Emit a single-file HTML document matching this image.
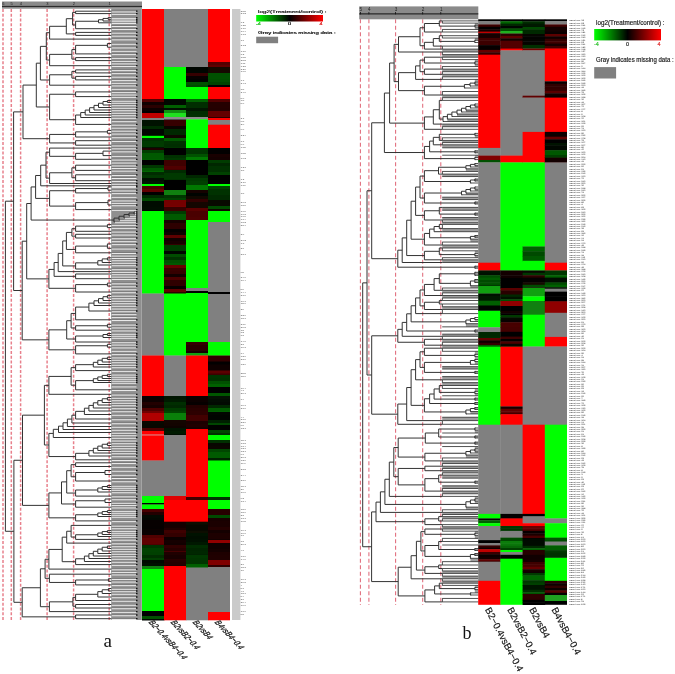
<!DOCTYPE html>
<html><head><meta charset="utf-8"><style>
html,body{margin:0;padding:0;background:#fff;}
svg{display:block;}
</style></head><body>
<svg width="675" height="674" viewBox="0 0 675 674">
<rect width="675" height="674" fill="#fff"/>
<defs><filter id="soft" x="0" y="0" width="1" height="1" color-interpolation-filters="sRGB"><feGaussianBlur stdDeviation="0.45"/></filter></defs>
<g filter="url(#soft)">
<line x1="3" y1="9" x2="3" y2="620" stroke="#e8808c" stroke-width="1.5" stroke-dasharray="3 1.75"/>
<line x1="11.3" y1="9" x2="11.3" y2="620" stroke="#e8808c" stroke-width="1.5" stroke-dasharray="3 1.75"/>
<line x1="20.6" y1="9" x2="20.6" y2="620" stroke="#e8808c" stroke-width="1.5" stroke-dasharray="3 1.75"/>
<line x1="47.1" y1="9" x2="47.1" y2="620" stroke="#e8808c" stroke-width="1.5" stroke-dasharray="3 1.75"/>
<line x1="73.6" y1="9" x2="73.6" y2="620" stroke="#e8808c" stroke-width="1.5" stroke-dasharray="3 1.75"/>
<line x1="109.2" y1="9" x2="109.2" y2="620" stroke="#e8808c" stroke-width="1.5" stroke-dasharray="3 1.75"/>
<rect x="2" y="1.5" width="140" height="7.2" fill="#8a8a8a"/>
<rect x="2" y="5.9" width="140" height="1" fill="#222"/>
<text x="2.2" y="4.9" font-family="Liberation Sans, sans-serif" font-size="4" fill="#222">6</text>
<text x="10.5" y="4.9" font-family="Liberation Sans, sans-serif" font-size="4" fill="#222">5</text>
<text x="19.8" y="4.9" font-family="Liberation Sans, sans-serif" font-size="4" fill="#222">4</text>
<text x="46.300000000000004" y="4.9" font-family="Liberation Sans, sans-serif" font-size="4" fill="#222">3</text>
<text x="72.8" y="4.9" font-family="Liberation Sans, sans-serif" font-size="4" fill="#222">2</text>
<text x="108.4" y="4.9" font-family="Liberation Sans, sans-serif" font-size="4" fill="#222">1</text>
<rect x="111.2" y="8.5" width="30.6" height="611.5" fill="#8f8f8f"/>
<path d="M111.2 11H137.3M111.2 13.4H137.3M111.2 17.4H137.3M111.2 19.1H137.3M111.2 20.8H137.3M111.2 22.6H137.3M111.2 25.55H137.3M111.2 28.5H137.3M111.2 32.2H137.3M111.2 35.2H137.3M111.2 38.9H137.3M111.2 43.3H137.3M111.2 47H137.3M111.2 50.35H137.3M111.2 53.7H137.3M111.2 57.4H137.3M111.2 60.4H137.3M111.2 62.95H137.3M111.2 65.5H137.3M111.2 69.7H137.3M111.2 72.7H137.3M111.2 76.2H137.3M111.2 79.7H137.3M111.2 82.35H137.3M111.2 85H137.3M111.2 88.35H137.3M111.2 91.7H137.3M111.2 94.05H137.3M111.2 96.4H137.3M111.2 100.3H137.3M111.2 102.3H137.3M111.2 104.8H137.3M111.2 107.3H137.3M111.2 109.8H137.3M111.2 112.3H137.3M111.2 114.8H137.3M111.2 117.3H137.3M111.2 120.75H137.3M111.2 124.2H137.3M111.2 127.2H137.3M111.2 130.2H137.3M111.2 133.1H137.3M111.2 136.8H137.3M111.2 140.5H137.3M111.2 145H137.3M111.2 147.9H137.3M111.2 150.9H137.3M111.2 155.4H137.3M111.2 159.1H137.3M111.2 162.05H137.3M111.2 165H137.3M111.2 167.6H137.3M111.2 170.2H137.3M111.2 174.6H137.3M111.2 177.55H137.3M111.2 180.5H137.3M111.2 183.3H137.3M111.2 185.6H137.3M111.2 186.7H137.3M111.2 190H137.3M111.2 192.7H137.3M111.2 196.35H137.3M111.2 200H137.3M111.2 202.4H137.3M111.2 204.8H137.3M111.2 209.4H137.3M134 211.8H137.3M134 213.8H137.3M129 215.8H137.3M124 217.8H137.3M119 219.8H137.3M114 221.8H137.3M111.2 224.4H137.3M111.2 227.4H137.3M111.2 231.1H137.3M111.2 234.1H137.3M111.2 237.8H137.3M111.2 240.75H137.3M111.2 243.7H137.3M111.2 248.1H137.3M111.2 252.6H137.3M111.2 255.1H137.3M111.2 257.6H137.3M111.2 259.8H137.3M111.2 262.3H137.3M111.2 264.8H137.3M111.2 268.8H137.3M111.2 271.4H137.3M111.2 273.8H137.3M111.2 276.15H137.3M111.2 278.5H137.3M111.2 282.9H137.3M111.2 285.9H137.3M111.2 288.85H137.3M111.2 291.8H137.3M111.2 295.2H137.3M111.2 297.8H137.3M111.2 300.3H137.3M111.2 302.8H137.3M111.2 305.3H137.3M111.2 308.05H137.3M111.2 310.8H137.3M111.2 313.73H137.3M111.2 316.67H137.3M111.2 319.6H137.3M111.2 324.1H137.3M111.2 327H137.3M111.2 330H137.3M111.2 333.3H137.3M111.2 335.3H137.3M111.2 337.3H137.3M111.2 341.8H137.3M111.2 344.1H137.3M111.2 347H137.3M111.2 350.35H137.3M111.2 353.7H137.3M111.2 357H137.3M111.2 359.3H137.3M111.2 361.8H137.3M111.2 364.3H137.3M111.2 366.8H137.3M111.2 370.4H137.3M111.2 374.1H137.3M111.2 376.3H137.3M111.2 378.3H137.3M111.2 380.3H137.3M111.2 382.3H137.3M111.2 385.95H137.3M111.2 389.6H137.3M111.2 394.1H137.3M111.2 397.3H137.3M111.2 399.8H137.3M111.2 402.3H137.3M111.2 404.8H137.3M111.2 407.8H137.3M111.2 410.8H137.3M111.2 414.3H137.3M111.2 418.8H137.3M111.2 422.8H137.3M111.2 426.3H137.3M111.2 429.3H137.3M111.2 432.3H137.3M111.2 434.8H137.3M111.2 437.3H137.3M111.2 440.05H137.3M111.2 442.8H137.3M111.2 445.3H137.3M111.2 447.8H137.3M111.2 450.3H137.3M111.2 452.8H137.3M111.2 455.8H137.3M111.2 459.6H137.3M111.2 462.6H137.3M111.2 466.3H137.3M111.2 470.3H137.3M111.2 474.3H137.3M111.2 477.55H137.3M111.2 480.8H137.3M111.2 485.3H137.3M111.2 487.3H137.3M111.2 489.3H137.3M111.2 491.8H137.3M111.2 495.9H137.3M111.2 498.8H137.3M111.2 502.3H137.3M111.2 504.65H137.3M111.2 507H137.3M111.2 510.4H137.3M111.2 512.3H137.3M111.2 514.3H137.3M111.2 516.3H137.3M111.2 520.7H137.3M111.2 525.2H137.3M111.2 527.8H137.3M111.2 530.4H137.3M111.2 532.3H137.3M111.2 534.3H137.3M111.2 536.3H137.3M111.2 539.2H137.3M111.2 542.9H137.3M111.2 545.8H137.3M111.2 548.3H137.3M111.2 550.8H137.3M111.2 553.3H137.3M111.2 555.8H137.3M111.2 558.3H137.3M111.2 561.3H137.3M111.2 564.4H137.3M111.2 568.9H137.3M111.2 571.45H137.3M111.2 574H137.3M111.2 578.5H137.3M111.2 581.1H137.3M111.2 584.7H137.3M111.2 588.3H137.3M111.2 590.8H137.3M111.2 593.3H137.3M111.2 596.8H137.3M111.2 600.3H137.3M111.2 604.3H137.3M111.2 607.8H137.3M111.2 611.4H137.3M111.2 614.8H137.3M111.2 618.5H137.3" stroke="#6a6a6a" stroke-width="0.6" fill="none"/>
<path d="M111.8 11.95H136.5M111.8 14.35H136.5M111.8 18.35H136.5M111.8 20.05H136.5M111.8 21.75H136.5M111.8 23.55H136.5M111.8 26.5H136.5M111.8 29.45H136.5M111.8 33.15H136.5M111.8 36.15H136.5M111.8 39.85H136.5M111.8 44.25H136.5M111.8 47.95H136.5M111.8 51.3H136.5M111.8 54.65H136.5M111.8 58.35H136.5M111.8 61.35H136.5M111.8 63.9H136.5M111.8 66.45H136.5M111.8 70.65H136.5M111.8 73.65H136.5M111.8 77.15H136.5M111.8 80.65H136.5M111.8 83.3H136.5M111.8 85.95H136.5M111.8 89.3H136.5M111.8 92.65H136.5M111.8 95H136.5M111.8 97.35H136.5M111.8 101.25H136.5M111.8 103.25H136.5M111.8 105.75H136.5M111.8 108.25H136.5M111.8 110.75H136.5M111.8 113.25H136.5M111.8 115.75H136.5M111.8 118.25H136.5M111.8 121.7H136.5M111.8 125.15H136.5M111.8 128.15H136.5M111.8 131.15H136.5M111.8 134.05H136.5M111.8 137.75H136.5M111.8 141.45H136.5M111.8 145.95H136.5M111.8 148.85H136.5M111.8 151.85H136.5M111.8 156.35H136.5M111.8 160.05H136.5M111.8 163H136.5M111.8 165.95H136.5M111.8 168.55H136.5M111.8 171.15H136.5M111.8 175.55H136.5M111.8 178.5H136.5M111.8 181.45H136.5M111.8 184.25H136.5M111.8 186.55H136.5M111.8 187.65H136.5M111.8 190.95H136.5M111.8 193.65H136.5M111.8 197.3H136.5M111.8 200.95H136.5M111.8 203.35H136.5M111.8 205.75H136.5M111.8 210.35H136.5M134.6 212.75H136.5M134.6 214.75H136.5M129.6 216.75H136.5M124.6 218.75H136.5M119.6 220.75H136.5M114.6 222.75H136.5M111.8 225.35H136.5M111.8 228.35H136.5M111.8 232.05H136.5M111.8 235.05H136.5M111.8 238.75H136.5M111.8 241.7H136.5M111.8 244.65H136.5M111.8 249.05H136.5M111.8 253.55H136.5M111.8 256.05H136.5M111.8 258.55H136.5M111.8 260.75H136.5M111.8 263.25H136.5M111.8 265.75H136.5M111.8 269.75H136.5M111.8 272.35H136.5M111.8 274.75H136.5M111.8 277.1H136.5M111.8 279.45H136.5M111.8 283.85H136.5M111.8 286.85H136.5M111.8 289.8H136.5M111.8 292.75H136.5M111.8 296.15H136.5M111.8 298.75H136.5M111.8 301.25H136.5M111.8 303.75H136.5M111.8 306.25H136.5M111.8 309H136.5M111.8 311.75H136.5M111.8 314.68H136.5M111.8 317.62H136.5M111.8 320.55H136.5M111.8 325.05H136.5M111.8 327.95H136.5M111.8 330.95H136.5M111.8 334.25H136.5M111.8 336.25H136.5M111.8 338.25H136.5M111.8 342.75H136.5M111.8 345.05H136.5M111.8 347.95H136.5M111.8 351.3H136.5M111.8 354.65H136.5M111.8 357.95H136.5M111.8 360.25H136.5M111.8 362.75H136.5M111.8 365.25H136.5M111.8 367.75H136.5M111.8 371.35H136.5M111.8 375.05H136.5M111.8 377.25H136.5M111.8 379.25H136.5M111.8 381.25H136.5M111.8 383.25H136.5M111.8 386.9H136.5M111.8 390.55H136.5M111.8 395.05H136.5M111.8 398.25H136.5M111.8 400.75H136.5M111.8 403.25H136.5M111.8 405.75H136.5M111.8 408.75H136.5M111.8 411.75H136.5M111.8 415.25H136.5M111.8 419.75H136.5M111.8 423.75H136.5M111.8 427.25H136.5M111.8 430.25H136.5M111.8 433.25H136.5M111.8 435.75H136.5M111.8 438.25H136.5M111.8 441H136.5M111.8 443.75H136.5M111.8 446.25H136.5M111.8 448.75H136.5M111.8 451.25H136.5M111.8 453.75H136.5M111.8 456.75H136.5M111.8 460.55H136.5M111.8 463.55H136.5M111.8 467.25H136.5M111.8 471.25H136.5M111.8 475.25H136.5M111.8 478.5H136.5M111.8 481.75H136.5M111.8 486.25H136.5M111.8 488.25H136.5M111.8 490.25H136.5M111.8 492.75H136.5M111.8 496.85H136.5M111.8 499.75H136.5M111.8 503.25H136.5M111.8 505.6H136.5M111.8 507.95H136.5M111.8 511.35H136.5M111.8 513.25H136.5M111.8 515.25H136.5M111.8 517.25H136.5M111.8 521.65H136.5M111.8 526.15H136.5M111.8 528.75H136.5M111.8 531.35H136.5M111.8 533.25H136.5M111.8 535.25H136.5M111.8 537.25H136.5M111.8 540.15H136.5M111.8 543.85H136.5M111.8 546.75H136.5M111.8 549.25H136.5M111.8 551.75H136.5M111.8 554.25H136.5M111.8 556.75H136.5M111.8 559.25H136.5M111.8 562.25H136.5M111.8 565.35H136.5M111.8 569.85H136.5M111.8 572.4H136.5M111.8 574.95H136.5M111.8 579.45H136.5M111.8 582.05H136.5M111.8 585.65H136.5M111.8 589.25H136.5M111.8 591.75H136.5M111.8 594.25H136.5M111.8 597.75H136.5M111.8 601.25H136.5M111.8 605.25H136.5M111.8 608.75H136.5M111.8 612.35H136.5M111.8 615.75H136.5M111.8 619.45H136.5" stroke="#fff" stroke-width="0.85" fill="none"/>
<path d="M5.4 201.2V531.29M5.4 201.2H13.6M13.6 111.88V290.51M13.6 111.88H23M23 85.08V138.69M23 85.08H36.3M36.3 63.18V106.98M36.3 63.18H40.4M40.4 46.36V79.99M40.4 46.36H46.3M46.3 32.7V60.03M46.3 32.7H49.6M49.6 26.3V39.1M49.6 26.3H66.3M66.3 18.69V33.9M66.3 18.69H72.6M72.6 12.4V24.98M72.6 12.4H75.6M75.6 11.2V13.6M75.6 11.2H111.2M75.6 13.6H111.2M72.6 24.98H75.6M75.6 21.26V28.7M75.6 21.26H98.5M98.5 19.73V22.8M98.5 19.73H103M103 18.45V21M103 18.45H108.1M108.1 17.6V19.3M108.1 17.6H111.2M108.1 19.3H111.2M103 21H111.2M98.5 22.8H111.2M75.6 28.7H111.2M66.3 33.9H75.6M75.6 32.4V35.4M75.6 32.4H111.2M75.6 35.4H111.2M49.6 39.1H111.2M46.3 60.03H49.6M49.6 54.36V65.7M49.6 54.36H71.9M71.9 49.62V59.1M71.9 49.62H75.6M75.6 45.35V53.9M75.6 45.35H107.4M107.4 43.5V47.2M107.4 43.5H111.2M107.4 47.2H111.2M75.6 53.9H111.2M71.9 59.1H75.6M75.6 57.6V60.6M75.6 57.6H111.2M75.6 60.6H111.2M49.6 65.7H111.2M40.4 79.99H49.6M49.6 74.78V85.2M49.6 74.78H71.9M71.9 71.4V78.15M71.9 71.4H75.6M75.6 69.9V72.9M75.6 69.9H111.2M75.6 72.9H111.2M71.9 78.15H75.6M75.6 76.4V79.9M75.6 76.4H111.2M75.6 79.9H111.2M49.6 85.2H111.2M36.3 106.98H49.6M49.6 94.25V119.71M49.6 94.25H75.6M75.6 91.9V96.6M75.6 91.9H111.2M75.6 96.6H111.2M49.6 119.71H75.6M75.6 115.02V124.4M75.6 115.02H80.7M80.7 112.55V117.5M80.7 112.55H85.2M85.2 110.09V115M85.2 110.09H89.6M89.6 107.69V112.5M89.6 107.69H94M94 105.38V110M94 105.38H98.5M98.5 103.25V107.5M98.5 103.25H103M103 101.5V105M103 101.5H107.4M107.4 100.5V102.5M107.4 100.5H111.2M107.4 102.5H111.2M103 105H111.2M98.5 107.5H111.2M94 110H111.2M89.6 112.5H111.2M85.2 115H111.2M80.7 117.5H111.2M75.6 124.4H111.2M23 138.69H49.6M49.6 134.43V142.95M49.6 134.43H75.6M75.6 131.85V137M75.6 131.85H107.4M107.4 130.4V133.3M107.4 130.4H111.2M107.4 133.3H111.2M75.6 137H111.2M49.6 142.95H75.6M75.6 140.7V145.2M75.6 140.7H111.2M75.6 145.2H111.2M13.6 290.51H22.2M22.2 241.19V339.84M22.2 241.19H26.7M26.7 203.51V278.87M26.7 203.51H31.1M31.1 186.95V220.06M31.1 186.95H35.6M35.6 175.49V198.41M35.6 175.49H40.7M40.7 165.17V185.8M40.7 165.17H46M46 152.21V178.14M46 152.21H49.6M49.6 148.1V156.32M49.6 148.1H111.2M49.6 156.32H75.6M75.6 153.35V159.3M75.6 153.35H103M103 151.1V155.6M103 151.1H111.2M103 155.6H111.2M75.6 159.3H111.2M46 178.14H49.6M49.6 172.78V183.5M49.6 172.78H71.9M71.9 167.8V177.75M71.9 167.8H75.6M75.6 165.2V170.4M75.6 165.2H111.2M75.6 170.4H111.2M71.9 177.75H75.6M75.6 174.8V180.7M75.6 174.8H111.2M75.6 180.7H111.2M49.6 183.5H111.2M40.7 185.8H111.2M35.6 198.41H49.6M49.6 190.73V206.1M49.6 190.73H75.6M75.6 188.55V192.9M75.6 188.55H108M108 186.9V190.2M108 186.9H111.2M108 190.2H111.2M75.6 192.9H111.2M49.6 206.1H75.6M75.6 202.6V209.6M75.6 202.6H108M108 200.2V205M108 200.2H111.2M108 205H111.2M75.6 209.6H111.2M31.1 220.06H114M114 218.12V222M114 218.12H119M119 216.25V220M119 216.25H124M124 214.5V218M124 214.5H129M129 213V216M129 213H134M134 212V214M134 212h0.8M134 214h0.8M129 216h0.8M124 218h0.8M119 220h0.8M114 222h0.8M26.7 278.87H48.9M48.9 269.43V288.3M48.9 269.43H54.1M54.1 262.52V276.35M54.1 262.52H58.2M58.2 253.43V271.6M58.2 253.43H62.7M62.7 240.94V265.93M62.7 240.94H66.4M66.4 232.43V249.45M66.4 232.43H71.9M71.9 228.7V236.15M71.9 228.7H75.6M75.6 226.1V231.3M75.6 226.1H107.4M107.4 224.6V227.6M107.4 224.6H111.2M107.4 227.6H111.2M75.6 231.3H111.2M71.9 236.15H75.6M75.6 234.3V238M75.6 234.3H111.2M75.6 238H111.2M66.4 249.45H75.6M75.6 246.1V252.8M75.6 246.1H107.4M107.4 243.9V248.3M107.4 243.9H111.2M107.4 248.3H111.2M75.6 252.8H111.2M62.7 265.93H75.6M75.6 262.85V269M75.6 262.85H97.8M97.8 260.7V265M97.8 260.7H102.2M102.2 258.9V262.5M102.2 258.9H107.4M107.4 257.8V260M107.4 257.8H111.2M107.4 260H111.2M102.2 262.5H111.2M97.8 265H111.2M75.6 269H111.2M58.2 271.6H111.2M54.1 276.35H75.6M75.6 274V278.7M75.6 274H111.2M75.6 278.7H111.2M48.9 288.3H75.6M75.6 284.6V292M75.6 284.6H107.4M107.4 283.1V286.1M107.4 283.1H111.2M107.4 286.1H111.2M75.6 292H111.2M22.2 339.84H48.9M48.9 329.85V349.82M48.9 329.85H66.7M66.7 320.71V339M66.7 320.71H71.1M71.1 313.44V327.98M71.1 313.44H75.6M75.6 307.07V319.8M75.6 307.07H88.9M88.9 303.15V311M88.9 303.15H94M94 300.8V305.5M94 300.8H98.5M98.5 298.6V303M98.5 298.6H103M103 296.7V300.5M103 296.7H107.4M107.4 295.4V298M107.4 295.4H111.2M107.4 298H111.2M103 300.5H111.2M98.5 303H111.2M94 305.5H111.2M88.9 311H111.2M75.6 319.8H111.2M71.1 327.98H75.6M75.6 325.75V330.2M75.6 325.75H107.4M107.4 324.3V327.2M107.4 324.3H111.2M107.4 327.2H111.2M75.6 330.2H111.2M66.7 339H75.6M75.6 336V342M75.6 336H103M103 334.5V337.5M103 334.5H107.4M107.4 333.5V335.5M107.4 333.5H111.2M107.4 335.5H111.2M103 337.5H111.2M75.6 342H111.2M48.9 349.82H75.6M75.6 345.75V353.9M75.6 345.75H107.4M107.4 344.3V347.2M107.4 344.3H111.2M107.4 347.2H111.2M75.6 353.9H111.2M5.4 531.29H13.9M13.9 460.28V602.3M13.9 460.28H22.5M22.5 415.17V505.38M22.5 415.17H44.4M44.4 385.36V444.99M44.4 385.36H48.9M48.9 376.42V394.3M48.9 376.42H71.1M71.1 367.63V385.21M71.1 367.63H75.6M75.6 364.67V370.6M75.6 364.67H93.3M93.3 362.34V367M93.3 362.34H97.8M97.8 360.18V364.5M97.8 360.18H102.2M102.2 358.35V362M102.2 358.35H107.4M107.4 357.2V359.5M107.4 357.2H111.2M107.4 359.5H111.2M102.2 362H111.2M97.8 364.5H111.2M93.3 367H111.2M75.6 370.6H111.2M71.1 385.21H75.6M75.6 380.61V389.8M75.6 380.61H93.3M93.3 378.73V382.5M93.3 378.73H97.8M97.8 376.95V380.5M97.8 376.95H102.2M102.2 375.4V378.5M102.2 375.4H107.4M107.4 374.3V376.5M107.4 374.3H111.2M107.4 376.5H111.2M102.2 378.5H111.2M97.8 380.5H111.2M93.3 382.5H111.2M75.6 389.8H111.2M48.9 394.3H111.2M44.4 444.99H48.9M48.9 433.41V456.56M48.9 433.41H53.3M53.3 429.32V437.5M53.3 429.32H58.5M58.5 426.15V432.5M58.5 426.15H63M63 422.79V429.5M63 422.79H67.4M67.4 419.09V426.5M67.4 419.09H71.9M71.9 415.18V423M71.9 415.18H75.6M75.6 411.35V419M75.6 411.35H84.4M84.4 408.2V414.5M84.4 408.2H88.9M88.9 405.41V411M88.9 405.41H93.3M93.3 402.81V408M93.3 402.81H97.8M97.8 400.62V405M97.8 400.62H102.2M102.2 398.75V402.5M102.2 398.75H107.4M107.4 397.5V400M107.4 397.5H111.2M107.4 400H111.2M102.2 402.5H111.2M97.8 405H111.2M93.3 408H111.2M88.9 411H111.2M84.4 414.5H111.2M75.6 419H111.2M71.9 423H111.2M67.4 426.5H111.2M63 429.5H111.2M58.5 432.5H111.2M53.3 437.5H111.2M48.9 456.56H75.6M75.6 453.33V459.8M75.6 453.33H88.9M88.9 450.66V456M88.9 450.66H93.3M93.3 448.31V453M93.3 448.31H97.8M97.8 446.12V450.5M97.8 446.12H102.2M102.2 444.25V448M102.2 444.25H107.4M107.4 443V445.5M107.4 443H111.2M107.4 445.5H111.2M102.2 448H111.2M97.8 450.5H111.2M93.3 453H111.2M88.9 456H111.2M75.6 459.8H111.2M22.5 505.38H48.9M48.9 492.93V517.83M48.9 492.93H61.5M61.5 481.88V503.98M61.5 481.88H66.7M66.7 470.7V493.05M66.7 470.7H71.1M71.1 464.65V476.75M71.1 464.65H75.6M75.6 462.8V466.5M75.6 462.8H111.2M75.6 466.5H111.2M71.1 476.75H75.6M75.6 472.5V481M75.6 472.5H105M105 470.5V474.5M105 470.5H111.2M105 474.5H111.2M75.6 481H111.2M66.7 493.05H75.6M75.6 490V496.1M75.6 490H97.8M97.8 488V492M97.8 488H102.2M102.2 486.5V489.5M102.2 486.5H107.4M107.4 485.5V487.5M107.4 485.5H111.2M107.4 487.5H111.2M102.2 489.5H111.2M97.8 492H111.2M75.6 496.1H111.2M61.5 503.98H75.6M75.6 500.75V507.2M75.6 500.75H105M105 499V502.5M105 499H111.2M105 502.5H111.2M75.6 507.2H111.2M48.9 517.83H75.6M75.6 514.76V520.9M75.6 514.76H97.8M97.8 513.02V516.5M97.8 513.02H102.2M102.2 511.55V514.5M102.2 511.55H107.4M107.4 510.6V512.5M107.4 510.6H111.2M107.4 512.5H111.2M102.2 514.5H111.2M97.8 516.5H111.2M75.6 520.9H111.2M13.9 602.3H22.2M22.2 587.75V616.85M22.2 587.75H40.4M40.4 568.8V606.71M40.4 568.8H45.1M45.1 559.27V578.33M45.1 559.27H48.9M48.9 549.43V569.1M48.9 549.43H62.2M62.2 537.17V561.69M62.2 537.17H66.7M66.7 531.24V543.1M66.7 531.24H71.1M71.1 525.4V537.08M71.1 525.4H111.2M71.1 537.08H75.6M75.6 534.76V539.4M75.6 534.76H97.8M97.8 533.02V536.5M97.8 533.02H102.2M102.2 531.55V534.5M102.2 531.55H107.4M107.4 530.6V532.5M107.4 530.6H111.2M107.4 532.5H111.2M102.2 534.5H111.2M97.8 536.5H111.2M75.6 539.4H111.2M66.7 543.1H111.2M62.2 561.69H75.6M75.6 558.79V564.6M75.6 558.79H84.4M84.4 556.08V561.5M84.4 556.08H88.9M88.9 553.66V558.5M88.9 553.66H93.3M93.3 551.31V556M93.3 551.31H97.8M97.8 549.12V553.5M97.8 549.12H102.2M102.2 547.25V551M102.2 547.25H107.4M107.4 546V548.5M107.4 546H111.2M107.4 548.5H111.2M102.2 551H111.2M97.8 553.5H111.2M93.3 556H111.2M88.9 558.5H111.2M84.4 561.5H111.2M75.6 564.6H111.2M48.9 569.1H111.2M45.1 578.33H49.4M49.4 574.2V582.45M49.4 574.2H111.2M49.4 582.45H75.6M75.6 580V584.9M75.6 580H108.4M108.4 578.7V581.3M108.4 578.7H111.2M108.4 581.3H111.2M75.6 584.9H111.2M40.4 606.71H49.4M49.4 601.83V611.6M49.4 601.83H72.9M72.9 597.41V606.25M72.9 597.41H75.6M75.6 594.31V600.5M75.6 594.31H97.8M97.8 591.62V597M97.8 591.62H102.2M102.2 589.75V593.5M102.2 589.75H108.4M108.4 588.5V591M108.4 588.5H111.2M108.4 591H111.2M102.2 593.5H111.2M97.8 597H111.2M75.6 600.5H111.2M72.9 606.25H75.6M75.6 604.5V608M75.6 604.5H111.2M75.6 608H111.2M49.4 611.6H111.2M22.2 616.85H75.6M75.6 615V618.7M75.6 615H111.2M75.6 618.7H111.2" stroke="#333" stroke-width="1" fill="none"/>
<path d="M136 11.2h1.5M136 13.6h1.5M136 17.6h1.5M136 19.3h1.5M136 21h1.5M136 22.8h1.5M136 28.7h1.5M136 32.4h1.5M136 35.4h1.5M136 39.1h1.5M136 43.5h1.5M136 47.2h1.5M136 53.9h1.5M136 57.6h1.5M136 60.6h1.5M136 65.7h1.5M136 69.9h1.5M136 72.9h1.5M136 76.4h1.5M136 79.9h1.5M136 85.2h1.5M136 91.9h1.5M136 96.6h1.5M136 100.5h1.5M136 102.5h1.5M136 105h1.5M136 107.5h1.5M136 110h1.5M136 112.5h1.5M136 115h1.5M136 117.5h1.5M136 124.4h1.5M136 130.4h1.5M136 133.3h1.5M136 137h1.5M136 140.7h1.5M136 145.2h1.5M136 148.1h1.5M136 151.1h1.5M136 155.6h1.5M136 159.3h1.5M136 165.2h1.5M136 170.4h1.5M136 174.8h1.5M136 180.7h1.5M136 183.5h1.5M136 185.8h1.5M136 186.9h1.5M136 190.2h1.5M136 192.9h1.5M136 200.2h1.5M136 205h1.5M136 209.6h1.5M136 212h1.5M136 214h1.5M136 216h1.5M136 218h1.5M136 220h1.5M136 222h1.5M136 224.6h1.5M136 227.6h1.5M136 231.3h1.5M136 234.3h1.5M136 238h1.5M136 243.9h1.5M136 248.3h1.5M136 252.8h1.5M136 257.8h1.5M136 260h1.5M136 262.5h1.5M136 265h1.5M136 269h1.5M136 271.6h1.5M136 274h1.5M136 278.7h1.5M136 283.1h1.5M136 286.1h1.5M136 292h1.5M136 295.4h1.5M136 298h1.5M136 300.5h1.5M136 303h1.5M136 305.5h1.5M136 311h1.5M136 319.8h1.5M136 324.3h1.5M136 327.2h1.5M136 330.2h1.5M136 333.5h1.5M136 335.5h1.5M136 337.5h1.5M136 342h1.5M136 344.3h1.5M136 347.2h1.5M136 353.9h1.5M136 357.2h1.5M136 359.5h1.5M136 362h1.5M136 364.5h1.5M136 367h1.5M136 370.6h1.5M136 374.3h1.5M136 376.5h1.5M136 378.5h1.5M136 380.5h1.5M136 382.5h1.5M136 389.8h1.5M136 394.3h1.5M136 397.5h1.5M136 400h1.5M136 402.5h1.5M136 405h1.5M136 408h1.5M136 411h1.5M136 414.5h1.5M136 419h1.5M136 423h1.5M136 426.5h1.5M136 429.5h1.5M136 432.5h1.5M136 437.5h1.5M136 443h1.5M136 445.5h1.5M136 448h1.5M136 450.5h1.5M136 453h1.5M136 456h1.5M136 459.8h1.5M136 462.8h1.5M136 466.5h1.5M136 470.5h1.5M136 474.5h1.5M136 481h1.5M136 485.5h1.5M136 487.5h1.5M136 489.5h1.5M136 492h1.5M136 496.1h1.5M136 499h1.5M136 502.5h1.5M136 507.2h1.5M136 510.6h1.5M136 512.5h1.5M136 514.5h1.5M136 516.5h1.5M136 520.9h1.5M136 525.4h1.5M136 530.6h1.5M136 532.5h1.5M136 534.5h1.5M136 536.5h1.5M136 539.4h1.5M136 543.1h1.5M136 546h1.5M136 548.5h1.5M136 551h1.5M136 553.5h1.5M136 556h1.5M136 558.5h1.5M136 561.5h1.5M136 564.6h1.5M136 569.1h1.5M136 574.2h1.5M136 578.7h1.5M136 581.3h1.5M136 584.9h1.5M136 588.5h1.5M136 591h1.5M136 593.5h1.5M136 597h1.5M136 600.5h1.5M136 604.5h1.5M136 608h1.5M136 611.6h1.5M136 615h1.5M136 618.7h1.5" stroke="#111" stroke-width="1.3" fill="none"/>
<rect x="142" y="9" width="22.4" height="90.3" fill="#ff0000"/>
<rect x="142" y="99" width="22.4" height="3.5" fill="#550000"/>
<rect x="142" y="102" width="22.4" height="3.5" fill="#110000"/>
<rect x="142" y="105" width="22.4" height="3.5" fill="#2a0000"/>
<rect x="142" y="108" width="22.4" height="3.5" fill="#0d0000"/>
<rect x="142" y="111" width="22.4" height="2.5" fill="#020000"/>
<rect x="142" y="113" width="22.4" height="5.3" fill="#c00000"/>
<rect x="142" y="118" width="22.4" height="2.3" fill="#808080"/>
<rect x="142" y="120" width="22.4" height="6.5" fill="#001200"/>
<rect x="142" y="126" width="22.4" height="3.5" fill="#002a00"/>
<rect x="142" y="129" width="22.4" height="6.5" fill="#000700"/>
<rect x="142" y="135" width="22.4" height="1.5" fill="#003400"/>
<rect x="142" y="136" width="22.4" height="2.3" fill="#00ff00"/>
<rect x="142" y="138" width="22.4" height="3.5" fill="#003200"/>
<rect x="142" y="141" width="22.4" height="3.5" fill="#003a00"/>
<rect x="142" y="144" width="22.4" height="3.5" fill="#003b00"/>
<rect x="142" y="147" width="22.4" height="1.5" fill="#001600"/>
<rect x="142" y="148" width="22.4" height="2.3" fill="#200000"/>
<rect x="142" y="150" width="22.4" height="3.5" fill="#003d00"/>
<rect x="142" y="153" width="22.4" height="6.5" fill="#005900"/>
<rect x="142" y="159" width="22.4" height="1.5" fill="#005d00"/>
<rect x="142" y="160" width="22.4" height="3.5" fill="#000000"/>
<rect x="142" y="163" width="22.4" height="2.5" fill="#000000"/>
<rect x="142" y="165" width="22.4" height="3.5" fill="#003700"/>
<rect x="142" y="168" width="22.4" height="3.5" fill="#005700"/>
<rect x="142" y="171" width="22.4" height="1.5" fill="#006600"/>
<rect x="142" y="172" width="22.4" height="3.5" fill="#002c00"/>
<rect x="142" y="175" width="22.4" height="3.5" fill="#003800"/>
<rect x="142" y="178" width="22.4" height="3.5" fill="#000f00"/>
<rect x="142" y="181" width="22.4" height="3.5" fill="#001500"/>
<rect x="142" y="184" width="22.4" height="2.3" fill="#00ff00"/>
<rect x="142" y="186" width="22.4" height="3.5" fill="#4b0000"/>
<rect x="142" y="189" width="22.4" height="3.5" fill="#620000"/>
<rect x="142" y="192" width="22.4" height="3.5" fill="#020000"/>
<rect x="142" y="195" width="22.4" height="3.5" fill="#002b00"/>
<rect x="142" y="198" width="22.4" height="3.5" fill="#004a00"/>
<rect x="142" y="201" width="22.4" height="6.5" fill="#000c00"/>
<rect x="142" y="207" width="22.4" height="3.5" fill="#000e00"/>
<rect x="142" y="210" width="22.4" height="1.5" fill="#000300"/>
<rect x="142" y="211" width="22.4" height="82.8" fill="#00ff00"/>
<rect x="142" y="293.5" width="22.4" height="62.3" fill="#808080"/>
<rect x="142" y="355.5" width="22.4" height="40.8" fill="#ff0000"/>
<rect x="142" y="396" width="22.4" height="3.5" fill="#0b0000"/>
<rect x="142" y="399" width="22.4" height="3.5" fill="#0d0000"/>
<rect x="142" y="402" width="22.4" height="3.5" fill="#220000"/>
<rect x="142" y="405" width="22.4" height="3.5" fill="#180000"/>
<rect x="142" y="408" width="22.4" height="3.5" fill="#4e0000"/>
<rect x="142" y="411" width="22.4" height="2.5" fill="#710000"/>
<rect x="142" y="413" width="22.4" height="8.3" fill="#b00000"/>
<rect x="142" y="421" width="22.4" height="3.5" fill="#090900"/>
<rect x="142" y="424" width="22.4" height="3.5" fill="#080800"/>
<rect x="142" y="427" width="22.4" height="1.5" fill="#080800"/>
<rect x="142" y="428" width="22.4" height="3.3" fill="#500000"/>
<rect x="142" y="431" width="22.4" height="3.8" fill="#ff0000"/>
<rect x="142" y="434.5" width="22.4" height="1.3" fill="#d07070"/>
<rect x="142" y="435.5" width="22.4" height="25.3" fill="#ff0000"/>
<rect x="142" y="460.5" width="22.4" height="35.8" fill="#808080"/>
<rect x="142" y="496" width="22.4" height="7.3" fill="#00ff00"/>
<rect x="142" y="503" width="22.4" height="1.8" fill="#000000"/>
<rect x="142" y="504.5" width="22.4" height="4.8" fill="#00ff00"/>
<rect x="142" y="509" width="22.4" height="3.5" fill="#490000"/>
<rect x="142" y="512" width="22.4" height="3.5" fill="#220000"/>
<rect x="142" y="515" width="22.4" height="3.5" fill="#020b02"/>
<rect x="142" y="518" width="22.4" height="2.5" fill="#020802"/>
<rect x="142" y="520" width="22.4" height="6.5" fill="#060000"/>
<rect x="142" y="526" width="22.4" height="3.5" fill="#050000"/>
<rect x="142" y="529" width="22.4" height="3.5" fill="#090000"/>
<rect x="142" y="532" width="22.4" height="3.5" fill="#0a0000"/>
<rect x="142" y="535" width="22.4" height="3.5" fill="#510000"/>
<rect x="142" y="538" width="22.4" height="6.5" fill="#600000"/>
<rect x="142" y="544" width="22.4" height="1.5" fill="#500000"/>
<rect x="142" y="545" width="22.4" height="3.5" fill="#003300"/>
<rect x="142" y="548" width="22.4" height="4.5" fill="#004200"/>
<rect x="142" y="552" width="22.4" height="3.5" fill="#004000"/>
<rect x="142" y="555" width="22.4" height="3.5" fill="#002e00"/>
<rect x="142" y="558" width="22.4" height="2.5" fill="#004000"/>
<rect x="142" y="560" width="22.4" height="3.5" fill="#000a00"/>
<rect x="142" y="563" width="22.4" height="3.5" fill="#001000"/>
<rect x="142" y="566" width="22.4" height="3.3" fill="#108010"/>
<rect x="142" y="569" width="22.4" height="42.3" fill="#00ff00"/>
<rect x="142" y="611" width="22.4" height="3.5" fill="#000000"/>
<rect x="142" y="614" width="22.4" height="2.5" fill="#000000"/>
<rect x="142" y="616" width="22.4" height="3.5" fill="#005100"/>
<rect x="142" y="619" width="22.4" height="1.5" fill="#000600"/>
<rect x="164" y="9" width="22.4" height="58.3" fill="#808080"/>
<rect x="164" y="67" width="22.4" height="32.3" fill="#00ff00"/>
<rect x="164" y="99" width="22.4" height="6.5" fill="#000800"/>
<rect x="164" y="105" width="22.4" height="3.5" fill="#005f00"/>
<rect x="164" y="108" width="22.4" height="2.5" fill="#000f00"/>
<rect x="164" y="110" width="22.4" height="3.3" fill="#109010"/>
<rect x="164" y="113" width="22.4" height="4.3" fill="#20e020"/>
<rect x="164" y="117" width="22.4" height="2.8" fill="#8c8c8c"/>
<rect x="164" y="119.5" width="22.4" height="0.8" fill="#000000"/>
<rect x="164" y="120" width="22.4" height="6.5" fill="#360000"/>
<rect x="164" y="126" width="22.4" height="3.5" fill="#0a0400"/>
<rect x="164" y="129" width="22.4" height="6.5" fill="#002800"/>
<rect x="164" y="135" width="22.4" height="3.5" fill="#100500"/>
<rect x="164" y="138" width="22.4" height="3.5" fill="#005800"/>
<rect x="164" y="141" width="22.4" height="3.5" fill="#003100"/>
<rect x="164" y="144" width="22.4" height="3.5" fill="#002e00"/>
<rect x="164" y="147" width="22.4" height="1.5" fill="#003400"/>
<rect x="164" y="148" width="22.4" height="3.5" fill="#000000"/>
<rect x="164" y="151" width="22.4" height="4.5" fill="#000000"/>
<rect x="164" y="155" width="22.4" height="3.5" fill="#003100"/>
<rect x="164" y="158" width="22.4" height="2.5" fill="#003900"/>
<rect x="164" y="160" width="22.4" height="6.5" fill="#400000"/>
<rect x="164" y="166" width="22.4" height="3.5" fill="#500000"/>
<rect x="164" y="169" width="22.4" height="1.5" fill="#460000"/>
<rect x="164" y="170" width="22.4" height="3.5" fill="#002a00"/>
<rect x="164" y="173" width="22.4" height="6.5" fill="#003900"/>
<rect x="164" y="179" width="22.4" height="1.5" fill="#003200"/>
<rect x="164" y="180" width="22.4" height="6.5" fill="#000000"/>
<rect x="164" y="186" width="22.4" height="3.5" fill="#000000"/>
<rect x="164" y="189" width="22.4" height="1.5" fill="#000000"/>
<rect x="164" y="190" width="22.4" height="5.3" fill="#108010"/>
<rect x="164" y="195" width="22.4" height="3.5" fill="#003400"/>
<rect x="164" y="198" width="22.4" height="2.5" fill="#004300"/>
<rect x="164" y="200" width="22.4" height="6.5" fill="#750000"/>
<rect x="164" y="206" width="22.4" height="1.5" fill="#7a0000"/>
<rect x="164" y="207" width="22.4" height="3.5" fill="#390000"/>
<rect x="164" y="210" width="22.4" height="1.5" fill="#3a0000"/>
<rect x="164" y="211" width="22.4" height="3.5" fill="#003c00"/>
<rect x="164" y="214" width="22.4" height="6.5" fill="#005a00"/>
<rect x="164" y="220" width="22.4" height="3.5" fill="#170000"/>
<rect x="164" y="223" width="22.4" height="6.5" fill="#2d0000"/>
<rect x="164" y="229" width="22.4" height="3.5" fill="#040000"/>
<rect x="164" y="232" width="22.4" height="3.5" fill="#0e0000"/>
<rect x="164" y="235" width="22.4" height="3.5" fill="#5f0000"/>
<rect x="164" y="238" width="22.4" height="3.5" fill="#110000"/>
<rect x="164" y="241" width="22.4" height="3.5" fill="#190000"/>
<rect x="164" y="244" width="22.4" height="1.5" fill="#340000"/>
<rect x="164" y="245" width="22.4" height="6.5" fill="#003b00"/>
<rect x="164" y="251" width="22.4" height="3.5" fill="#000600"/>
<rect x="164" y="254" width="22.4" height="3.5" fill="#004c00"/>
<rect x="164" y="257" width="22.4" height="3.5" fill="#003300"/>
<rect x="164" y="260" width="22.4" height="3.5" fill="#005000"/>
<rect x="164" y="263" width="22.4" height="2.5" fill="#005800"/>
<rect x="164" y="265" width="22.4" height="3.5" fill="#660000"/>
<rect x="164" y="268" width="22.4" height="3.5" fill="#3a0000"/>
<rect x="164" y="271" width="22.4" height="3.5" fill="#360000"/>
<rect x="164" y="274" width="22.4" height="3.5" fill="#130000"/>
<rect x="164" y="277" width="22.4" height="3.5" fill="#4c0000"/>
<rect x="164" y="280" width="22.4" height="6.5" fill="#300000"/>
<rect x="164" y="286" width="22.4" height="3.5" fill="#080000"/>
<rect x="164" y="289" width="22.4" height="3.5" fill="#630000"/>
<rect x="164" y="292" width="22.4" height="2" fill="#2b0000"/>
<rect x="164" y="293.5" width="22.4" height="62.3" fill="#00ff00"/>
<rect x="164" y="355.5" width="22.4" height="40.8" fill="#808080"/>
<rect x="164" y="396" width="22.4" height="3.5" fill="#001500"/>
<rect x="164" y="399" width="22.4" height="3.5" fill="#001a00"/>
<rect x="164" y="402" width="22.4" height="3.5" fill="#002e00"/>
<rect x="164" y="405" width="22.4" height="3.5" fill="#002800"/>
<rect x="164" y="408" width="22.4" height="3.5" fill="#003d00"/>
<rect x="164" y="411" width="22.4" height="2.5" fill="#004600"/>
<rect x="164" y="413" width="22.4" height="7.3" fill="#0a800a"/>
<rect x="164" y="420" width="22.4" height="3.5" fill="#140500"/>
<rect x="164" y="423" width="22.4" height="3.5" fill="#130400"/>
<rect x="164" y="426" width="22.4" height="2.5" fill="#0e0300"/>
<rect x="164" y="428" width="22.4" height="3.5" fill="#001500"/>
<rect x="164" y="431" width="22.4" height="3.5" fill="#001a00"/>
<rect x="164" y="434" width="22.4" height="1.5" fill="#000e00"/>
<rect x="164" y="435" width="22.4" height="61.3" fill="#808080"/>
<rect x="164" y="496" width="22.4" height="4.3" fill="#e00000"/>
<rect x="164" y="500" width="22.4" height="22" fill="#ff0000"/>
<rect x="164" y="521.7" width="22.4" height="6.5" fill="#140000"/>
<rect x="164" y="527.7" width="22.4" height="2.8" fill="#200000"/>
<rect x="164" y="530" width="22.4" height="3.5" fill="#3e0000"/>
<rect x="164" y="533" width="22.4" height="4.5" fill="#330000"/>
<rect x="164" y="537" width="22.4" height="3.5" fill="#0c0000"/>
<rect x="164" y="540" width="22.4" height="3.5" fill="#150000"/>
<rect x="164" y="543" width="22.4" height="2.5" fill="#120000"/>
<rect x="164" y="545" width="22.4" height="3.5" fill="#300000"/>
<rect x="164" y="548" width="22.4" height="3.5" fill="#260000"/>
<rect x="164" y="551" width="22.4" height="1.5" fill="#440000"/>
<rect x="164" y="552" width="22.4" height="3.5" fill="#1f0000"/>
<rect x="164" y="555" width="22.4" height="4.5" fill="#180000"/>
<rect x="164" y="559" width="22.4" height="3.5" fill="#280000"/>
<rect x="164" y="562" width="22.4" height="3.5" fill="#240000"/>
<rect x="164" y="565" width="22.4" height="1.5" fill="#200000"/>
<rect x="164" y="566" width="22.4" height="54.3" fill="#ff0000"/>
<rect x="186" y="9" width="22.4" height="58.3" fill="#808080"/>
<rect x="186" y="67" width="22.4" height="6.5" fill="#000600"/>
<rect x="186" y="73" width="22.4" height="3.5" fill="#350000"/>
<rect x="186" y="76" width="22.4" height="3.5" fill="#070100"/>
<rect x="186" y="79" width="22.4" height="3.5" fill="#010200"/>
<rect x="186" y="82" width="22.4" height="3.5" fill="#005200"/>
<rect x="186" y="85" width="22.4" height="2.5" fill="#004900"/>
<rect x="186" y="87" width="22.4" height="12.3" fill="#00ff00"/>
<rect x="186" y="99" width="22.4" height="3.5" fill="#006400"/>
<rect x="186" y="102" width="22.4" height="6.5" fill="#002e00"/>
<rect x="186" y="108" width="22.4" height="3.5" fill="#001600"/>
<rect x="186" y="111" width="22.4" height="3.5" fill="#002c00"/>
<rect x="186" y="114" width="22.4" height="3.5" fill="#002e00"/>
<rect x="186" y="117" width="22.4" height="2.6" fill="#8c8c8c"/>
<rect x="186" y="119.3" width="22.4" height="29" fill="#00ff00"/>
<rect x="186" y="148" width="22.4" height="3.5" fill="#003700"/>
<rect x="186" y="151" width="22.4" height="3.5" fill="#003600"/>
<rect x="186" y="154" width="22.4" height="3.5" fill="#005200"/>
<rect x="186" y="157" width="22.4" height="3.5" fill="#007900"/>
<rect x="186" y="160" width="22.4" height="3.5" fill="#000000"/>
<rect x="186" y="163" width="22.4" height="3.5" fill="#000000"/>
<rect x="186" y="166" width="22.4" height="3.5" fill="#000000"/>
<rect x="186" y="169" width="22.4" height="3.5" fill="#000000"/>
<rect x="186" y="172" width="22.4" height="3.5" fill="#000000"/>
<rect x="186" y="175" width="22.4" height="3.5" fill="#002700"/>
<rect x="186" y="178" width="22.4" height="3.5" fill="#003a00"/>
<rect x="186" y="181" width="22.4" height="4.5" fill="#004000"/>
<rect x="186" y="185" width="22.4" height="5.3" fill="#007800"/>
<rect x="186" y="190" width="22.4" height="3.5" fill="#150200"/>
<rect x="186" y="193" width="22.4" height="3.5" fill="#000400"/>
<rect x="186" y="196" width="22.4" height="3.5" fill="#100800"/>
<rect x="186" y="199" width="22.4" height="3.5" fill="#320000"/>
<rect x="186" y="202" width="22.4" height="6.5" fill="#140600"/>
<rect x="186" y="208" width="22.4" height="3.5" fill="#5b0000"/>
<rect x="186" y="211" width="22.4" height="6.5" fill="#4a0000"/>
<rect x="186" y="217" width="22.4" height="3.5" fill="#4e0000"/>
<rect x="186" y="220" width="22.4" height="68.3" fill="#00ff00"/>
<rect x="186" y="288" width="22.4" height="3.3" fill="#808080"/>
<rect x="186" y="291" width="22.4" height="2.3" fill="#000000"/>
<rect x="186" y="293" width="22.4" height="49.3" fill="#00ff00"/>
<rect x="186" y="342" width="22.4" height="3.5" fill="#340000"/>
<rect x="186" y="345" width="22.4" height="6.5" fill="#290000"/>
<rect x="186" y="351" width="22.4" height="2.5" fill="#140000"/>
<rect x="186" y="353" width="22.4" height="2.8" fill="#10a010"/>
<rect x="186" y="355.5" width="22.4" height="40.8" fill="#ff0000"/>
<rect x="186" y="396" width="22.4" height="6.5" fill="#0c0000"/>
<rect x="186" y="402" width="22.4" height="3.5" fill="#060000"/>
<rect x="186" y="405" width="22.4" height="3.5" fill="#240000"/>
<rect x="186" y="408" width="22.4" height="3.5" fill="#2a0000"/>
<rect x="186" y="411" width="22.4" height="4.5" fill="#2d0000"/>
<rect x="186" y="415" width="22.4" height="6.5" fill="#420000"/>
<rect x="186" y="421" width="22.4" height="3.5" fill="#1c0000"/>
<rect x="186" y="424" width="22.4" height="3.5" fill="#200000"/>
<rect x="186" y="427" width="22.4" height="2.5" fill="#1a0000"/>
<rect x="186" y="429" width="22.4" height="68.3" fill="#ff0000"/>
<rect x="186" y="497" width="22.4" height="3.3" fill="#400000"/>
<rect x="186" y="500" width="22.4" height="22" fill="#ff0000"/>
<rect x="186" y="521.7" width="22.4" height="3.5" fill="#0d0d00"/>
<rect x="186" y="524.7" width="22.4" height="6.5" fill="#080800"/>
<rect x="186" y="530.7" width="22.4" height="2.8" fill="#0d0d00"/>
<rect x="186" y="533" width="22.4" height="3.5" fill="#001200"/>
<rect x="186" y="536" width="22.4" height="3.5" fill="#000e00"/>
<rect x="186" y="539" width="22.4" height="3.5" fill="#001000"/>
<rect x="186" y="542" width="22.4" height="3.5" fill="#001800"/>
<rect x="186" y="545" width="22.4" height="3.5" fill="#002c00"/>
<rect x="186" y="548" width="22.4" height="3.5" fill="#002500"/>
<rect x="186" y="551" width="22.4" height="3.5" fill="#002700"/>
<rect x="186" y="554" width="22.4" height="1.5" fill="#002300"/>
<rect x="186" y="555" width="22.4" height="3.5" fill="#003800"/>
<rect x="186" y="558" width="22.4" height="6.5" fill="#003500"/>
<rect x="186" y="564" width="22.4" height="1.5" fill="#005e00"/>
<rect x="186" y="565" width="22.4" height="2.9" fill="#006000"/>
<rect x="186" y="567.6" width="22.4" height="52.7" fill="#808080"/>
<rect x="208" y="9" width="22" height="53.3" fill="#ff0000"/>
<rect x="208" y="62" width="22" height="3.5" fill="#540000"/>
<rect x="208" y="65" width="22" height="2.5" fill="#620000"/>
<rect x="208" y="67" width="22" height="3.5" fill="#130a00"/>
<rect x="208" y="70" width="22" height="3.5" fill="#160800"/>
<rect x="208" y="73" width="22" height="6.5" fill="#005100"/>
<rect x="208" y="79" width="22" height="3.5" fill="#004e00"/>
<rect x="208" y="82" width="22" height="3.5" fill="#004300"/>
<rect x="208" y="85" width="22" height="2.5" fill="#010200"/>
<rect x="208" y="87" width="22" height="12.3" fill="#ff0000"/>
<rect x="208" y="99" width="22" height="3.5" fill="#530000"/>
<rect x="208" y="102" width="22" height="6.5" fill="#250000"/>
<rect x="208" y="108" width="22" height="3.5" fill="#230000"/>
<rect x="208" y="111" width="22" height="6.5" fill="#630000"/>
<rect x="208" y="117" width="22" height="1.5" fill="#2b0000"/>
<rect x="208" y="118" width="22" height="2.3" fill="#ff0000"/>
<rect x="208" y="120" width="22" height="5" fill="#808080"/>
<rect x="208" y="124.7" width="22" height="23.6" fill="#ff0000"/>
<rect x="208" y="148" width="22" height="6.5" fill="#020000"/>
<rect x="208" y="154" width="22" height="3.5" fill="#180000"/>
<rect x="208" y="157" width="22" height="3.5" fill="#140000"/>
<rect x="208" y="160" width="22" height="3.5" fill="#003c00"/>
<rect x="208" y="163" width="22" height="3.5" fill="#002700"/>
<rect x="208" y="166" width="22" height="6.5" fill="#003100"/>
<rect x="208" y="172" width="22" height="3.5" fill="#004200"/>
<rect x="208" y="175" width="22" height="6.5" fill="#000000"/>
<rect x="208" y="181" width="22" height="3.5" fill="#000000"/>
<rect x="208" y="184" width="22" height="2.3" fill="#00ff00"/>
<rect x="208" y="186" width="22" height="3.5" fill="#004400"/>
<rect x="208" y="189" width="22" height="6.5" fill="#003200"/>
<rect x="208" y="195" width="22" height="5.5" fill="#002a00"/>
<rect x="208" y="200" width="22" height="6.5" fill="#080a00"/>
<rect x="208" y="206" width="22" height="3.5" fill="#004900"/>
<rect x="208" y="209" width="22" height="2.5" fill="#100400"/>
<rect x="208" y="211" width="22" height="11.3" fill="#00ff00"/>
<rect x="208" y="222" width="22" height="70.3" fill="#808080"/>
<rect x="208" y="292" width="22" height="2.3" fill="#000000"/>
<rect x="208" y="294" width="22" height="48.3" fill="#808080"/>
<rect x="208" y="342" width="22" height="13.8" fill="#00ff00"/>
<rect x="208" y="355.5" width="22" height="6.5" fill="#320000"/>
<rect x="208" y="361.5" width="22" height="3.5" fill="#020000"/>
<rect x="208" y="364.5" width="22" height="6.5" fill="#0e0000"/>
<rect x="208" y="370.5" width="22" height="3.5" fill="#5c0000"/>
<rect x="208" y="373.5" width="22" height="2" fill="#3d0000"/>
<rect x="208" y="375" width="22" height="3.5" fill="#003500"/>
<rect x="208" y="378" width="22" height="3.5" fill="#003300"/>
<rect x="208" y="381" width="22" height="3.5" fill="#005100"/>
<rect x="208" y="384" width="22" height="3.5" fill="#006100"/>
<rect x="208" y="387" width="22" height="6.5" fill="#000000"/>
<rect x="208" y="393" width="22" height="3.5" fill="#005600"/>
<rect x="208" y="396" width="22" height="3.5" fill="#041204"/>
<rect x="208" y="399" width="22" height="3.5" fill="#030d03"/>
<rect x="208" y="402" width="22" height="3.5" fill="#020a02"/>
<rect x="208" y="405" width="22" height="3.5" fill="#002800"/>
<rect x="208" y="408" width="22" height="3.5" fill="#005a00"/>
<rect x="208" y="411" width="22" height="1.5" fill="#006000"/>
<rect x="208" y="412" width="22" height="3.5" fill="#020600"/>
<rect x="208" y="415" width="22" height="5.5" fill="#010400"/>
<rect x="208" y="420" width="22" height="3.5" fill="#001f00"/>
<rect x="208" y="423" width="22" height="2.5" fill="#004600"/>
<rect x="208" y="425" width="22" height="5.5" fill="#010200"/>
<rect x="208" y="430" width="22" height="3.5" fill="#004900"/>
<rect x="208" y="433" width="22" height="2.5" fill="#003100"/>
<rect x="208" y="435" width="22" height="5.3" fill="#00ff00"/>
<rect x="208" y="440" width="22" height="3.5" fill="#003000"/>
<rect x="208" y="443" width="22" height="3.5" fill="#080600"/>
<rect x="208" y="446" width="22" height="3.5" fill="#0b0600"/>
<rect x="208" y="449" width="22" height="3.5" fill="#004600"/>
<rect x="208" y="452" width="22" height="6.5" fill="#005a00"/>
<rect x="208" y="458" width="22" height="3" fill="#002100"/>
<rect x="208" y="460.5" width="22" height="36.8" fill="#00ff00"/>
<rect x="208" y="497" width="22" height="3.5" fill="#003400"/>
<rect x="208" y="500" width="22" height="9.3" fill="#00ff00"/>
<rect x="208" y="509" width="22" height="6.5" fill="#270000"/>
<rect x="208" y="515" width="22" height="3.3" fill="#004a00"/>
<rect x="208" y="518" width="22" height="3.5" fill="#180000"/>
<rect x="208" y="521" width="22" height="6.5" fill="#1b0000"/>
<rect x="208" y="527" width="22" height="3.5" fill="#250000"/>
<rect x="208" y="530" width="22" height="3.5" fill="#140000"/>
<rect x="208" y="533" width="22" height="6.5" fill="#1d0000"/>
<rect x="208" y="539" width="22" height="1.5" fill="#130000"/>
<rect x="208" y="540" width="22" height="3.3" fill="#900000"/>
<rect x="208" y="543" width="22" height="6.5" fill="#0f0000"/>
<rect x="208" y="549" width="22" height="3.5" fill="#140000"/>
<rect x="208" y="552" width="22" height="3.5" fill="#1e0000"/>
<rect x="208" y="555" width="22" height="5.5" fill="#200000"/>
<rect x="208" y="560" width="22" height="5.3" fill="#800000"/>
<rect x="208" y="565" width="22" height="2.3" fill="#300000"/>
<rect x="208" y="567" width="22" height="45.3" fill="#808080"/>
<rect x="208" y="612" width="22" height="8.3" fill="#ff0000"/>
<rect x="232" y="9" width="8.4" height="611" fill="#cacaca"/>
<g transform="rotate(0.01) scale(1 0.6)" font-family="Liberation Sans, sans-serif" font-size="3.3" fill="#6a6a6a"><text x="240.6" y="19.17">255</text><text x="240.6" y="24">232</text><text x="240.6" y="38.5">72</text><text x="240.6" y="43.33">125</text><text x="240.6" y="48.17">176</text><text x="240.6" y="53">164</text><text x="240.6" y="57.83">133</text><text x="240.6" y="67.5">11</text><text x="240.6" y="77.17">212</text><text x="240.6" y="86.83">139</text><text x="240.6" y="91.67">32</text><text x="240.6" y="96.5">185</text><text x="240.6" y="101.33">258</text><text x="240.6" y="106.17">111</text><text x="240.6" y="111">128</text><text x="240.6" y="115.83">229</text><text x="240.6" y="120.67">160</text><text x="240.6" y="135.17">17</text><text x="240.6" y="140">243</text><text x="240.6" y="149.67">38</text><text x="240.6" y="154.5">240</text><text x="240.6" y="164.17">56</text><text x="240.6" y="169">78</text><text x="240.6" y="173.83">56</text><text x="240.6" y="198">21</text><text x="240.6" y="202.83">65</text><text x="240.6" y="207.67">20</text><text x="240.6" y="217.33">66</text><text x="240.6" y="227">224</text><text x="240.6" y="236.67">37</text><text x="240.6" y="241.5">99</text><text x="240.6" y="246.33">115</text><text x="240.6" y="256">155</text><text x="240.6" y="265.67">162</text><text x="240.6" y="280.17">121</text><text x="240.6" y="285">15</text><text x="240.6" y="299.5">12</text><text x="240.6" y="304.33">216</text><text x="240.6" y="309.17">117</text><text x="240.6" y="323.67">18</text><text x="240.6" y="338.17">203</text><text x="240.6" y="343">150</text><text x="240.6" y="352.67">106</text><text x="240.6" y="357.5">103</text><text x="240.6" y="362.33">100</text><text x="240.6" y="367.17">114</text><text x="240.6" y="372">152</text><text x="240.6" y="376.83">254</text><text x="240.6" y="391.33">29</text><text x="240.6" y="401">202</text><text x="240.6" y="405.83">13</text><text x="240.6" y="415.5">27</text><text x="240.6" y="425.17">231</text><text x="240.6" y="454.17">95</text><text x="240.6" y="463.83">240</text><text x="240.6" y="468.67">194</text><text x="240.6" y="483.17">56</text><text x="240.6" y="488">144</text><text x="240.6" y="492.83">216</text><text x="240.6" y="502.5">107</text><text x="240.6" y="507.33">159</text><text x="240.6" y="517">26</text><text x="240.6" y="526.67">229</text><text x="240.6" y="531.5">187</text><text x="240.6" y="541.17">211</text><text x="240.6" y="546">208</text><text x="240.6" y="550.83">18</text><text x="240.6" y="555.67">32</text><text x="240.6" y="560.5">33</text><text x="240.6" y="570.17">140</text><text x="240.6" y="575">23</text><text x="240.6" y="579.83">163</text><text x="240.6" y="589.5">34</text><text x="240.6" y="594.33">120</text><text x="240.6" y="599.17">239</text><text x="240.6" y="608.83">129</text><text x="240.6" y="623.33">255</text><text x="240.6" y="628.17">156</text><text x="240.6" y="647.5">164</text><text x="240.6" y="652.33">41</text><text x="240.6" y="657.17">201</text><text x="240.6" y="666.83">34</text><text x="240.6" y="676.5">167</text><text x="240.6" y="681.33">219</text><text x="240.6" y="695.83">44</text><text x="240.6" y="700.67">216</text><text x="240.6" y="705.5">229</text><text x="240.6" y="710.33">69</text><text x="240.6" y="715.17">121</text><text x="240.6" y="734.5">151</text><text x="240.6" y="739.33">138</text><text x="240.6" y="744.17">134</text><text x="240.6" y="749">127</text><text x="240.6" y="753.83">121</text><text x="240.6" y="758.67">97</text><text x="240.6" y="763.5">203</text><text x="240.6" y="768.33">126</text><text x="240.6" y="773.17">119</text><text x="240.6" y="782.83">238</text><text x="240.6" y="792.5">244</text><text x="240.6" y="802.17">230</text><text x="240.6" y="811.83">151</text><text x="240.6" y="816.67">26</text><text x="240.6" y="821.5">100</text><text x="240.6" y="831.17">92</text><text x="240.6" y="836">134</text><text x="240.6" y="850.5">180</text><text x="240.6" y="855.33">189</text><text x="240.6" y="860.17">23</text><text x="240.6" y="865">131</text><text x="240.6" y="869.83">105</text><text x="240.6" y="884.33">191</text><text x="240.6" y="889.17">160</text><text x="240.6" y="894">17</text><text x="240.6" y="903.67">33</text><text x="240.6" y="908.5">203</text><text x="240.6" y="918.17">47</text><text x="240.6" y="927.83">139</text><text x="240.6" y="932.67">146</text><text x="240.6" y="942.33">27</text><text x="240.6" y="947.17">183</text><text x="240.6" y="952">10</text><text x="240.6" y="966.5">101</text><text x="240.6" y="971.33">208</text><text x="240.6" y="976.17">4</text><text x="240.6" y="981">81</text><text x="240.6" y="985.83">47</text><text x="240.6" y="990.67">187</text><text x="240.6" y="995.5">84</text><text x="240.6" y="1000.33">27</text><text x="240.6" y="1005.17">204</text><text x="240.6" y="1010">190</text><text x="240.6" y="1019.67">179</text><text x="240.6" y="1024.5">88</text></g>
<line x1="360.4" y1="19.3" x2="360.4" y2="605" stroke="#e06a7a" stroke-width="1.05" stroke-dasharray="4 2.5"/>
<line x1="368.9" y1="19.3" x2="368.9" y2="605" stroke="#e06a7a" stroke-width="1.05" stroke-dasharray="4 2.5"/>
<line x1="395.6" y1="19.3" x2="395.6" y2="605" stroke="#e06a7a" stroke-width="1.05" stroke-dasharray="4 2.5"/>
<line x1="422.7" y1="19.3" x2="422.7" y2="605" stroke="#e06a7a" stroke-width="1.05" stroke-dasharray="4 2.5"/>
<line x1="440.8" y1="19.3" x2="440.8" y2="605" stroke="#e06a7a" stroke-width="1.05" stroke-dasharray="4 2.5"/>
<rect x="359.2" y="6.4" width="119.1" height="12.9" fill="#8a8a8a"/>
<rect x="359.2" y="13.4" width="119.1" height="1" fill="#111"/>
<rect x="360.0" y="12" width="0.8" height="2.4" fill="#111"/>
<text x="359.5" y="11.4" font-family="Liberation Sans, sans-serif" font-size="4.6" fill="#222">5</text>
<rect x="368.5" y="12" width="0.8" height="2.4" fill="#111"/>
<text x="368.0" y="11.4" font-family="Liberation Sans, sans-serif" font-size="4.6" fill="#222">4</text>
<rect x="395.20000000000005" y="12" width="0.8" height="2.4" fill="#111"/>
<text x="394.70000000000005" y="11.4" font-family="Liberation Sans, sans-serif" font-size="4.6" fill="#222">3</text>
<rect x="422.3" y="12" width="0.8" height="2.4" fill="#111"/>
<text x="421.8" y="11.4" font-family="Liberation Sans, sans-serif" font-size="4.6" fill="#222">2</text>
<rect x="440.40000000000003" y="12" width="0.8" height="2.4" fill="#111"/>
<text x="439.90000000000003" y="11.4" font-family="Liberation Sans, sans-serif" font-size="4.6" fill="#222">1</text>
<rect x="474.8" y="23.1" width="3.6" height="2.2" fill="#9e9e9e"/><rect x="474.8" y="26.9" width="3.6" height="2.55" fill="#9e9e9e"/><rect x="474.8" y="38" width="3.6" height="2.3" fill="#9e9e9e"/><rect x="442.2" y="49.1" width="36.2" height="2.9" fill="#9e9e9e"/><rect x="442.2" y="54.6" width="36.2" height="2.6" fill="#9e9e9e"/><rect x="474.8" y="59.6" width="3.6" height="2.4" fill="#9e9e9e"/><rect x="474.8" y="64" width="3.6" height="2.55" fill="#9e9e9e"/><rect x="442.2" y="69.1" width="36.2" height="2.6" fill="#9e9e9e"/><rect x="442.2" y="74.3" width="36.2" height="2.55" fill="#9e9e9e"/><rect x="474.8" y="79.4" width="3.6" height="2.8" fill="#9e9e9e"/><rect x="474.8" y="84" width="3.6" height="2" fill="#9e9e9e"/><rect x="442.2" y="95" width="36.2" height="2.7" fill="#9e9e9e"/><rect x="474.8" y="106" width="3.6" height="2" fill="#9e9e9e"/><rect x="465.9" y="110" width="12.5" height="2" fill="#9e9e9e"/><rect x="457" y="114" width="21.4" height="2.5" fill="#9e9e9e"/><rect x="447.4" y="119" width="31" height="2.5" fill="#9e9e9e"/><rect x="442.2" y="124.1" width="36.2" height="2.6" fill="#9e9e9e"/><rect x="474.8" y="135.2" width="3.6" height="2.6" fill="#9e9e9e"/><rect x="442.2" y="140.4" width="36.2" height="2.2" fill="#9e9e9e"/><rect x="442.2" y="144.8" width="36.2" height="3" fill="#9e9e9e"/><rect x="474.8" y="150.8" width="3.6" height="2" fill="#9e9e9e"/><rect x="474.8" y="155.2" width="3.6" height="2.4" fill="#9e9e9e"/><rect x="474.8" y="165.3" width="3.6" height="1.7" fill="#9e9e9e"/><rect x="465.9" y="168.8" width="12.5" height="2.65" fill="#9e9e9e"/><rect x="442.2" y="174.1" width="36.2" height="2.45" fill="#9e9e9e"/><rect x="474.8" y="179" width="3.6" height="2" fill="#9e9e9e"/><rect x="474.8" y="189" width="3.6" height="2" fill="#9e9e9e"/><rect x="465.9" y="193" width="12.5" height="1.8" fill="#9e9e9e"/><rect x="442.2" y="197.2" width="36.2" height="2.4" fill="#9e9e9e"/><rect x="474.8" y="202" width="3.6" height="2" fill="#9e9e9e"/><rect x="442.2" y="207.4" width="36.2" height="2.85" fill="#9e9e9e"/><rect x="474.8" y="213.1" width="3.6" height="2" fill="#9e9e9e"/><rect x="442.2" y="217.55" width="36.2" height="2.45" fill="#9e9e9e"/><rect x="442.2" y="222.2" width="36.2" height="2.2" fill="#9e9e9e"/><rect x="442.2" y="228.6" width="36.2" height="3.1" fill="#9e9e9e"/><rect x="474.8" y="235.5" width="3.6" height="1.8" fill="#9e9e9e"/><rect x="470.4" y="239.1" width="8" height="2.95" fill="#9e9e9e"/><rect x="442.2" y="245" width="36.2" height="3" fill="#9e9e9e"/><rect x="474.8" y="250.8" width="3.6" height="2.8" fill="#9e9e9e"/><rect x="474.8" y="255.6" width="3.6" height="2.1" fill="#9e9e9e"/><rect x="442.2" y="259.8" width="36.2" height="2.7" fill="#9e9e9e"/><rect x="474.8" y="266.2" width="3.6" height="2" fill="#9e9e9e"/><rect x="474.8" y="272.3" width="3.6" height="3" fill="#9e9e9e"/><rect x="474.8" y="279.5" width="3.6" height="3" fill="#9e9e9e"/><rect x="470.4" y="285.7" width="8" height="2.3" fill="#9e9e9e"/><rect x="442.2" y="290.3" width="36.2" height="2.6" fill="#9e9e9e"/><rect x="442.2" y="295.5" width="36.2" height="2.5" fill="#9e9e9e"/><rect x="442.2" y="306.75" width="36.2" height="2.75" fill="#9e9e9e"/><rect x="474.8" y="319.5" width="3.6" height="2" fill="#9e9e9e"/><rect x="465.9" y="323.7" width="12.5" height="3.15" fill="#9e9e9e"/><rect x="474.8" y="330" width="3.6" height="2" fill="#9e9e9e"/><rect x="442.2" y="334.15" width="36.2" height="2.15" fill="#9e9e9e"/><rect x="442.2" y="339.3" width="36.2" height="2.95" fill="#9e9e9e"/><rect x="442.2" y="345.2" width="36.2" height="3" fill="#9e9e9e"/><rect x="474.8" y="351.3" width="3.6" height="3.1" fill="#9e9e9e"/><rect x="474.8" y="356.4" width="3.6" height="3.1" fill="#9e9e9e"/><rect x="474.8" y="361.5" width="3.6" height="2.8" fill="#9e9e9e"/><rect x="442.2" y="366.67" width="36.2" height="2.37" fill="#9e9e9e"/><rect x="474.8" y="371.4" width="3.6" height="2" fill="#9e9e9e"/><rect x="442.2" y="376.6" width="36.2" height="3.2" fill="#9e9e9e"/><rect x="442.2" y="382.65" width="36.2" height="2.85" fill="#9e9e9e"/><rect x="474.8" y="388.45" width="3.6" height="2.95" fill="#9e9e9e"/><rect x="474.8" y="393.4" width="3.6" height="2.35" fill="#9e9e9e"/><rect x="474.8" y="398.1" width="3.6" height="2" fill="#9e9e9e"/><rect x="474.8" y="402.5" width="3.6" height="2" fill="#9e9e9e"/><rect x="474.8" y="407.5" width="3.6" height="2" fill="#9e9e9e"/><rect x="470.4" y="411.5" width="8" height="2.4" fill="#9e9e9e"/><rect x="442.2" y="417.25" width="36.2" height="3.35" fill="#9e9e9e"/><rect x="474.8" y="430" width="3.6" height="3" fill="#9e9e9e"/><rect x="474.8" y="436" width="3.6" height="2" fill="#9e9e9e"/><rect x="474.8" y="442.1" width="3.6" height="2" fill="#9e9e9e"/><rect x="474.8" y="446.55" width="3.6" height="2.45" fill="#9e9e9e"/><rect x="474.8" y="451" width="3.6" height="2" fill="#9e9e9e"/><rect x="465.9" y="455" width="12.5" height="2.95" fill="#9e9e9e"/><rect x="442.2" y="460.9" width="36.2" height="2.65" fill="#9e9e9e"/><rect x="442.2" y="466.2" width="36.2" height="2.25" fill="#9e9e9e"/><rect x="442.2" y="470.7" width="36.2" height="2.2" fill="#9e9e9e"/><rect x="442.2" y="475.1" width="36.2" height="3.05" fill="#9e9e9e"/><rect x="474.8" y="481.2" width="3.6" height="2" fill="#9e9e9e"/><rect x="442.2" y="485.83" width="36.2" height="2.63" fill="#9e9e9e"/><rect x="442.2" y="491.1" width="36.2" height="2.65" fill="#9e9e9e"/><rect x="474.8" y="496.4" width="3.6" height="2.6" fill="#9e9e9e"/><rect x="474.8" y="501" width="3.6" height="2.5" fill="#9e9e9e"/><rect x="465.9" y="507.1" width="12.5" height="2.65" fill="#9e9e9e"/><rect x="442.2" y="512.4" width="36.2" height="2.1" fill="#9e9e9e"/><rect x="442.2" y="516.6" width="36.2" height="2.2" fill="#9e9e9e"/><rect x="442.2" y="526.8" width="36.2" height="2.2" fill="#9e9e9e"/><rect x="474.8" y="531.15" width="3.6" height="2.15" fill="#9e9e9e"/><rect x="474.8" y="535.3" width="3.6" height="3.1" fill="#9e9e9e"/><rect x="474.8" y="548.5" width="3.6" height="2" fill="#9e9e9e"/><rect x="474.8" y="553.5" width="3.6" height="2" fill="#9e9e9e"/><rect x="470.4" y="558.3" width="8" height="3.35" fill="#9e9e9e"/><rect x="442.2" y="570.95" width="36.2" height="2.45" fill="#9e9e9e"/><rect x="442.2" y="576.1" width="36.2" height="2.7" fill="#9e9e9e"/><rect x="442.2" y="581" width="36.2" height="2.2" fill="#9e9e9e"/><rect x="474.8" y="585.4" width="3.6" height="2.2" fill="#9e9e9e"/><rect x="474.8" y="589.6" width="3.6" height="3.3" fill="#9e9e9e"/>
<path d="M442.2 20.9H478.4M442.2 23.1H478.4M474.8 25.3H478.4M474.8 26.9H478.4M442.2 29.45H478.4M442.2 32H478.4M442.2 35.7H478.4M442.2 38H478.4M474.8 40.3H478.4M474.8 42.5H478.4M442.2 46.1H478.4M442.2 49.1H478.4M442.2 52H478.4M442.2 54.6H478.4M442.2 57.2H478.4M442.2 59.6H478.4M474.8 62H478.4M474.8 64H478.4M442.2 66.55H478.4M442.2 69.1H478.4M442.2 71.7H478.4M442.2 74.3H478.4M442.2 76.85H478.4M442.2 79.4H478.4M474.8 82.2H478.4M474.8 84H478.4M470 86H478.4M464.4 88H478.4M442.2 91.5H478.4M442.2 95H478.4M442.2 97.7H478.4M442.2 100.4H478.4M474.8 104H478.4M474.8 106H478.4M470.4 108H478.4M465.9 110H478.4M461.5 112H478.4M457 114H478.4M451.9 116.5H478.4M447.4 119H478.4M443 121.5H478.4M442.2 124.1H478.4M442.2 126.7H478.4M442.2 129.3H478.4M474.8 133.4H478.4M474.8 135.2H478.4M442.2 137.8H478.4M442.2 140.4H478.4M442.2 142.6H478.4M442.2 144.8H478.4M442.2 147.8H478.4M474.8 150.8H478.4M474.8 152.8H478.4M442.2 155.2H478.4M474.8 157.6H478.4M474.8 159.6H478.4M474.8 163.5H478.4M474.8 165.3H478.4M470.4 167H478.4M465.9 168.8H478.4M442.2 171.45H478.4M442.2 174.1H478.4M442.2 176.55H478.4M474.8 179H478.4M474.8 181H478.4M470.4 183H478.4M474.8 187H478.4M474.8 189H478.4M470.4 191H478.4M465.9 193H478.4M461.5 194.8H478.4M442.2 197.2H478.4M442.2 199.6H478.4M474.8 202H478.4M474.8 204H478.4M442.2 207.4H478.4M442.2 210.25H478.4M474.8 213.1H478.4M474.8 215.1H478.4M442.2 217.55H478.4M442.2 220H478.4M442.2 222.2H478.4M442.2 224.4H478.4M442.2 228.6H478.4M442.2 231.7H478.4M474.8 235.5H478.4M474.8 237.3H478.4M470.4 239.1H478.4M442.2 242.05H478.4M442.2 245H478.4M442.2 248H478.4M442.2 250.8H478.4M474.8 253.6H478.4M474.8 255.6H478.4M442.2 257.7H478.4M442.2 259.8H478.4M442.2 262.5H478.4M474.8 266.2H478.4M474.8 268.2H478.4M474.8 272.3H478.4M474.8 275.3H478.4M474.8 279.5H478.4M474.8 282.5H478.4M470.4 285.7H478.4M442.2 288H478.4M442.2 290.3H478.4M442.2 292.9H478.4M442.2 295.5H478.4M442.2 298H478.4M442.2 300.5H478.4M442.2 304H478.4M442.2 306.75H478.4M442.2 309.5H478.4M442.2 313.6H478.4M474.8 317.5H478.4M474.8 319.5H478.4M470.4 321.5H478.4M465.9 323.7H478.4M442.2 326.85H478.4M474.8 330H478.4M474.8 332H478.4M442.2 334.15H478.4M442.2 336.3H478.4M442.2 339.3H478.4M442.2 342.25H478.4M442.2 345.2H478.4M442.2 348.2H478.4M442.2 351.3H478.4M474.8 354.4H478.4M474.8 356.4H478.4M474.8 359.5H478.4M474.8 361.5H478.4M470.4 364.3H478.4M442.2 366.67H478.4M442.2 369.03H478.4M474.8 371.4H478.4M474.8 373.4H478.4M442.2 376.6H478.4M442.2 379.8H478.4M442.2 382.65H478.4M442.2 385.5H478.4M442.2 388.45H478.4M474.8 391.4H478.4M474.8 393.4H478.4M442.2 395.75H478.4M474.8 398.1H478.4M474.8 400.1H478.4M474.8 402.5H478.4M474.8 404.5H478.4M474.8 407.5H478.4M474.8 409.5H478.4M470.4 411.5H478.4M465.9 413.9H478.4M442.2 417.25H478.4M442.2 420.6H478.4M442.2 424.3H478.4M474.8 428H478.4M474.8 430H478.4M442.2 433H478.4M474.8 436H478.4M474.8 438H478.4M474.8 442.1H478.4M474.8 444.1H478.4M442.2 446.55H478.4M474.8 449H478.4M474.8 451H478.4M470.4 453H478.4M465.9 455H478.4M442.2 457.95H478.4M442.2 460.9H478.4M442.2 463.55H478.4M442.2 466.2H478.4M442.2 468.45H478.4M442.2 470.7H478.4M442.2 472.9H478.4M442.2 475.1H478.4M442.2 478.15H478.4M474.8 481.2H478.4M474.8 483.2H478.4M442.2 485.83H478.4M442.2 488.47H478.4M442.2 491.1H478.4M442.2 493.75H478.4M442.2 496.4H478.4M474.8 499H478.4M474.8 501H478.4M470.4 503.5H478.4M465.9 507.1H478.4M442.2 509.75H478.4M442.2 512.4H478.4M442.2 514.5H478.4M442.2 516.6H478.4M442.2 518.8H478.4M442.2 521H478.4M442.2 524.6H478.4M442.2 526.8H478.4M442.2 529H478.4M442.2 531.15H478.4M474.8 533.3H478.4M474.8 535.3H478.4M442.2 538.4H478.4M442.2 541.5H478.4M442.2 545H478.4M474.8 548.5H478.4M474.8 550.5H478.4M474.8 553.5H478.4M474.8 555.5H478.4M470.4 558.3H478.4M442.2 561.65H478.4M442.2 565H478.4M442.2 568.5H478.4M442.2 570.95H478.4M442.2 573.4H478.4M442.2 576.1H478.4M442.2 578.8H478.4M442.2 581H478.4M442.2 583.2H478.4M442.2 585.4H478.4M474.8 587.6H478.4M474.8 589.6H478.4M470.4 592.9H478.4M470.4 595H478.4M442.2 598.45H478.4M442.2 601.9H478.4M442.4 20.9V23.1M442.4 29.45V32M442.4 35.7V38M442.4 46.1V49.1M442.4 52V54.6M442.4 57.2V59.6M442.4 66.55V69.1M442.4 71.7V74.3M442.4 76.85V79.4M442.4 91.5V95M442.4 97.7V100.4M442.4 126.7V129.3M442.4 137.8V140.4M442.4 142.6V144.8M442.4 171.45V174.1M442.4 220V222.2M442.4 224.4V228.6M442.4 242.05V245M442.4 248V250.8M442.4 257.7V259.8M442.4 288V290.3M442.4 292.9V295.5M442.4 298V300.5M442.4 304V306.75M442.4 309.5V313.6M442.4 336.3V339.3M442.4 342.25V345.2M442.4 348.2V351.3M442.4 379.8V382.65M442.4 385.5V388.45M442.4 420.6V424.3M442.4 457.95V460.9M442.4 463.55V466.2M442.4 468.45V470.7M442.4 472.9V475.1M442.4 488.47V491.1M442.4 493.75V496.4M442.4 509.75V512.4M442.4 514.5V516.6M442.4 518.8V521M442.4 524.6V526.8M442.4 529V531.15M442.4 538.4V541.5M442.4 561.65V565M442.4 568.5V570.95M442.4 573.4V576.1M442.4 578.8V581M442.4 583.2V585.4M442.4 598.45V601.9" stroke="#333" stroke-width="0.85" fill="none"/>
<path d="M362.7 282.87V546.74M362.7 282.87H367M367 190.74V374.99M367 190.74H371.7M371.7 122.79V258.7M371.7 122.79H384.4M384.4 93.06V152.52M384.4 93.06H389.6M389.6 63V123.11M389.6 63H394.1M394.1 44.37V81.64M394.1 44.37H398.5M398.5 36.73V52M398.5 36.73H420M420 27.75V45.71M420 27.75H424.4M424.4 23.5V32M424.4 23.5H439.3M439.3 20.9V26.1M439.3 20.9H442.2M439.3 26.1H474.8M474.8 25.3V26.9M474.8 25.3h0.8M474.8 26.9h0.8M424.4 32H442.2M420 45.71H424.4M424.4 42.33V49.1M424.4 42.33H433.3M433.3 38.55V46.1M433.3 38.55H439.3M439.3 35.7V41.4M439.3 35.7H442.2M439.3 41.4H474.8M474.8 40.3V42.5M474.8 40.3h0.8M474.8 42.5h0.8M433.3 46.1H442.2M424.4 49.1H442.2M398.5 52H442.2M394.1 81.64H398.5M398.5 72.65V90.64M398.5 72.65H415.6M415.6 65.9V79.4M415.6 65.9H420M420 60.1V71.7M420 60.1H424.4M424.4 57.2V63M424.4 57.2H442.2M424.4 63H474.8M474.8 62V64M474.8 62h0.8M474.8 64h0.8M420 71.7H424.4M424.4 69.1V74.3M424.4 69.1H442.2M424.4 74.3H442.2M415.6 79.4H442.2M398.5 90.64H424.4M424.4 86.28V95M424.4 86.28H464.4M464.4 84.55V88M464.4 84.55H470M470 83.1V86M470 83.1H474.8M474.8 82.2V84M474.8 82.2h0.8M474.8 84h0.8M470 86h0.8M464.4 88h0.8M424.4 95H442.2M389.6 123.11H424.4M424.4 116.92V129.3M424.4 116.92H433.3M433.3 109.74V124.1M433.3 109.74H439.3M439.3 100.4V119.07M439.3 100.4H442.2M439.3 119.07H443M443 116.64V121.5M443 116.64H447.4M447.4 114.28V119M447.4 114.28H451.9M451.9 112.06V116.5M451.9 112.06H457M457 110.12V114M457 110.12H461.5M461.5 108.25V112M461.5 108.25H465.9M465.9 106.5V110M465.9 106.5H470.4M470.4 105V108M470.4 105H474.8M474.8 104V106M474.8 104h0.8M474.8 106h0.8M470.4 108h0.8M465.9 110h0.8M461.5 112h0.8M457 114h0.8M451.9 116.5h0.8M447.4 119h0.8M443 121.5h0.8M433.3 124.1H442.2M424.4 129.3H442.2M384.4 152.52H424.4M424.4 146.44V158.6M424.4 146.44H429.6M429.6 141.08V151.8M429.6 141.08H433.3M433.3 137.35V144.8M433.3 137.35H439.3M439.3 134.3V140.4M439.3 134.3H474.8M474.8 133.4V135.2M474.8 133.4h0.8M474.8 135.2h0.8M439.3 140.4H442.2M433.3 144.8H442.2M429.6 151.8H474.8M474.8 150.8V152.8M474.8 150.8h0.8M474.8 152.8h0.8M424.4 158.6H474.8M474.8 157.6V159.6M474.8 157.6h0.8M474.8 159.6h0.8M371.7 258.7H397.8M397.8 250.19V267.2M397.8 250.19H402.2M402.2 237.88V262.5M402.2 237.88H406.7M406.7 220.21V255.55M406.7 220.21H411.1M411.1 201.21V239.21M411.1 201.21H415.6M415.6 187.05V215.38M415.6 187.05H420M420 176.09V198.01M420 176.09H424.4M424.4 170.68V181.5M424.4 170.68H438.5M438.5 167.25V174.1M438.5 167.25H465.9M465.9 165.7V168.8M465.9 165.7H470.4M470.4 164.4V167M470.4 164.4H474.8M474.8 163.5V165.3M474.8 163.5h0.8M474.8 165.3h0.8M470.4 167h0.8M465.9 168.8h0.8M438.5 174.1H442.2M424.4 181.5H470.4M470.4 180V183M470.4 180H474.8M474.8 179V181M474.8 179h0.8M474.8 181h0.8M470.4 183h0.8M420 198.01H424.4M424.4 193.03V203M424.4 193.03H461.5M461.5 191.25V194.8M461.5 191.25H465.9M465.9 189.5V193M465.9 189.5H470.4M470.4 188V191M470.4 188H474.8M474.8 187V189M474.8 187h0.8M474.8 189h0.8M470.4 191h0.8M465.9 193h0.8M461.5 194.8h0.8M424.4 203H474.8M474.8 202V204M474.8 202h0.8M474.8 204h0.8M415.6 215.38H424.4M424.4 210.75V220M424.4 210.75H439.3M439.3 207.4V214.1M439.3 207.4H442.2M439.3 214.1H474.8M474.8 213.1V215.1M474.8 213.1h0.8M474.8 215.1h0.8M424.4 220H442.2M411.1 239.21H424.4M424.4 233.43V245M424.4 233.43H429.6M429.6 229.1V237.75M429.6 229.1H434.1M434.1 226.5V231.7M434.1 226.5H439.3M439.3 224.4V228.6M439.3 224.4H442.2M439.3 228.6H442.2M434.1 231.7H442.2M429.6 237.75H470.4M470.4 236.4V239.1M470.4 236.4H474.8M474.8 235.5V237.3M474.8 235.5h0.8M474.8 237.3h0.8M470.4 239.1h0.8M424.4 245H442.2M406.7 255.55H424.4M424.4 251.3V259.8M424.4 251.3H439.3M439.3 248V254.6M439.3 248H442.2M439.3 254.6H474.8M474.8 253.6V255.6M474.8 253.6h0.8M474.8 255.6h0.8M424.4 259.8H442.2M402.2 262.5H442.2M397.8 267.2H474.8M474.8 266.2V268.2M474.8 266.2h0.8M474.8 268.2h0.8M367 374.99H371.7M371.7 335.8V414.18M371.7 335.8H397.8M397.8 329.35V342.25M397.8 329.35H402.2M402.2 322.4V336.3M402.2 322.4H406.7M406.7 313.81V331M406.7 313.81H411.1M411.1 305.76V321.85M411.1 305.76H415.6M415.6 297.92V313.6M415.6 297.92H420M420 289.97V305.88M420 289.97H424.4M424.4 284.44V295.5M424.4 284.44H434.1M434.1 278.58V290.3M434.1 278.58H439.3M439.3 273.8V283.35M439.3 273.8H474.8M474.8 272.3V275.3M474.8 272.3h0.8M474.8 275.3h0.8M439.3 283.35H470.4M470.4 281V285.7M470.4 281H474.8M474.8 279.5V282.5M474.8 279.5h0.8M474.8 282.5h0.8M470.4 285.7h0.8M434.1 290.3H442.2M424.4 295.5H442.2M420 305.88H424.4M424.4 302.25V309.5M424.4 302.25H439.3M439.3 300.5V304M439.3 300.5H442.2M439.3 304H442.2M424.4 309.5H442.2M415.6 313.6H442.2M411.1 321.85H465.9M465.9 320V323.7M465.9 320H470.4M470.4 318.5V321.5M470.4 318.5H474.8M474.8 317.5V319.5M474.8 317.5h0.8M474.8 319.5h0.8M470.4 321.5h0.8M465.9 323.7h0.8M406.7 331H474.8M474.8 330V332M474.8 330h0.8M474.8 332h0.8M402.2 336.3H442.2M397.8 342.25H424.4M424.4 339.3V345.2M424.4 339.3H442.2M424.4 345.2H442.2M371.7 414.18H397.8M397.8 404.06V424.3M397.8 404.06H406.7M406.7 387.53V420.6M406.7 387.53H411.1M411.1 369.7V405.36M411.1 369.7H415.6M415.6 359.6V379.8M415.6 359.6H420M420 351.8V367.4M420 351.8H424.4M424.4 348.2V355.4M424.4 348.2H442.2M424.4 355.4H474.8M474.8 354.4V356.4M474.8 354.4h0.8M474.8 356.4h0.8M420 367.4H424.4M424.4 362.4V372.4M424.4 362.4H470.4M470.4 360.5V364.3M470.4 360.5H474.8M474.8 359.5V361.5M474.8 359.5h0.8M474.8 361.5h0.8M470.4 364.3h0.8M424.4 372.4H474.8M474.8 371.4V373.4M474.8 371.4h0.8M474.8 373.4h0.8M415.6 379.8H442.2M411.1 405.36H424.4M424.4 398.76V411.95M424.4 398.76H429.6M429.6 394.02V403.5M429.6 394.02H434.1M434.1 388.95V399.1M434.1 388.95H439.3M439.3 385.5V392.4M439.3 385.5H442.2M439.3 392.4H474.8M474.8 391.4V393.4M474.8 391.4h0.8M474.8 393.4h0.8M434.1 399.1H474.8M474.8 398.1V400.1M474.8 398.1h0.8M474.8 400.1h0.8M429.6 403.5H474.8M474.8 402.5V404.5M474.8 402.5h0.8M474.8 404.5h0.8M424.4 411.95H465.9M465.9 410V413.9M465.9 410H470.4M470.4 408.5V411.5M470.4 408.5H474.8M474.8 407.5V409.5M474.8 407.5h0.8M474.8 409.5h0.8M470.4 411.5h0.8M465.9 413.9h0.8M406.7 420.6H442.2M397.8 424.3H442.2M362.7 546.74H371.6M371.6 511.91V581.58M371.6 511.91H376M376 502.12V521.7M376 502.12H380.4M380.4 491.84V512.4M380.4 491.84H384.9M384.9 479.26V504.43M384.9 479.26H389.3M389.3 462.11V496.4M389.3 462.11H393.8M393.8 447.56V476.66M393.8 447.56H398.2M398.2 438.05V457.07M398.2 438.05H425.3M425.3 433V443.1M425.3 433H438.7M438.7 429V437M438.7 429H474.8M474.8 428V430M474.8 428h0.8M474.8 430h0.8M438.7 437H474.8M474.8 436V438M474.8 436h0.8M474.8 438h0.8M425.3 443.1H474.8M474.8 442.1V444.1M474.8 442.1h0.8M474.8 444.1h0.8M398.2 457.07H424.9M424.9 453.25V460.9M424.9 453.25H465.9M465.9 451.5V455M465.9 451.5H470.4M470.4 450V453M470.4 450H474.8M474.8 449V451M474.8 449h0.8M474.8 451h0.8M470.4 453h0.8M465.9 455h0.8M424.9 460.9H442.2M393.8 476.66H398.2M398.2 468.45V484.88M398.2 468.45H424.9M424.9 466.2V470.7M424.9 466.2H442.2M424.9 470.7H442.2M398.2 484.88H424.9M424.9 478.65V491.1M424.9 478.65H438.7M438.7 475.1V482.2M438.7 475.1H442.2M438.7 482.2H474.8M474.8 481.2V483.2M474.8 481.2h0.8M474.8 483.2h0.8M424.9 491.1H442.2M389.3 496.4H442.2M384.9 504.43H465.9M465.9 501.75V507.1M465.9 501.75H470.4M470.4 500V503.5M470.4 500H474.8M474.8 499V501M474.8 499h0.8M474.8 501h0.8M470.4 503.5h0.8M465.9 507.1h0.8M380.4 512.4H442.2M376 521.7H424.9M424.9 518.8V524.6M424.9 518.8H438.7M438.7 516.6V521M438.7 516.6H442.2M438.7 521H442.2M424.9 524.6H442.2M371.6 581.58H398.2M398.2 567.24V595.91M398.2 567.24H411.1M411.1 555.69V578.8M411.1 555.69H416.4M416.4 541.3V570.08M416.4 541.3H420.9M420.9 531.65V550.95M420.9 531.65H424.9M424.9 529V534.3M424.9 529H442.2M424.9 534.3H474.8M474.8 533.3V535.3M474.8 533.3h0.8M474.8 535.3h0.8M420.9 550.95H424.9M424.9 545.5V556.4M424.9 545.5H438.7M438.7 541.5V549.5M438.7 541.5H442.2M438.7 549.5H474.8M474.8 548.5V550.5M474.8 548.5h0.8M474.8 550.5h0.8M424.9 556.4H470.4M470.4 554.5V558.3M470.4 554.5H474.8M474.8 553.5V555.5M474.8 553.5h0.8M474.8 555.5h0.8M470.4 558.3h0.8M416.4 570.08H424.9M424.9 566.75V573.4M424.9 566.75H438.7M438.7 565V568.5M438.7 565H442.2M438.7 568.5H442.2M424.9 573.4H442.2M411.1 578.8H442.2M398.2 595.91H424.9M424.9 589.93V601.9M424.9 589.93H434.6M434.6 585.9V593.95M434.6 585.9H439.3M439.3 583.2V588.6M439.3 583.2H442.2M439.3 588.6H474.8M474.8 587.6V589.6M474.8 587.6h0.8M474.8 589.6h0.8M434.6 593.95H470.4M470.4 592.9V595M470.4 592.9h0.8M470.4 595h0.8M424.9 601.9H442.2" stroke="#333" stroke-width="1" fill="none"/>
<rect x="478.2" y="19.3" width="22.6" height="2.2" fill="#000000"/>
<rect x="478.2" y="21.2" width="22.6" height="3.5" fill="#808080"/>
<rect x="478.2" y="24.4" width="22.6" height="2.9" fill="#3c0000"/>
<rect x="478.2" y="26.8" width="22.6" height="2.9" fill="#010000"/>
<rect x="478.2" y="29.2" width="22.6" height="2.9" fill="#130000"/>
<rect x="478.2" y="31.6" width="22.6" height="1.8" fill="#c00000"/>
<rect x="478.2" y="33.1" width="22.6" height="5.3" fill="#160000"/>
<rect x="478.2" y="37.9" width="22.6" height="2.9" fill="#3f0000"/>
<rect x="478.2" y="40.3" width="22.6" height="5.3" fill="#3c0000"/>
<rect x="478.2" y="45.1" width="22.6" height="5.3" fill="#060000"/>
<rect x="478.2" y="49.9" width="22.6" height="2.9" fill="#650000"/>
<rect x="478.2" y="52.3" width="22.6" height="2.9" fill="#320000"/>
<rect x="478.2" y="54.7" width="22.6" height="93.5" fill="#ff0000"/>
<rect x="478.2" y="147.9" width="22.6" height="8" fill="#808080"/>
<rect x="478.2" y="155.6" width="22.6" height="4.7" fill="#800000"/>
<rect x="478.2" y="160" width="22.6" height="2.7" fill="#005000"/>
<rect x="478.2" y="162.4" width="22.6" height="100.6" fill="#808080"/>
<rect x="478.2" y="262.7" width="22.6" height="8" fill="#ff0000"/>
<rect x="478.2" y="270.4" width="22.6" height="2.9" fill="#001700"/>
<rect x="478.2" y="272.8" width="22.6" height="2.9" fill="#001100"/>
<rect x="478.2" y="275.2" width="22.6" height="2.9" fill="#004c00"/>
<rect x="478.2" y="277.6" width="22.6" height="2.9" fill="#005d00"/>
<rect x="478.2" y="280" width="22.6" height="2.9" fill="#004a00"/>
<rect x="478.2" y="282.4" width="22.6" height="2.9" fill="#005200"/>
<rect x="478.2" y="284.8" width="22.6" height="1.7" fill="#003900"/>
<rect x="478.2" y="286" width="22.6" height="7.8" fill="#10a010"/>
<rect x="478.2" y="293.5" width="22.6" height="2.9" fill="#000f00"/>
<rect x="478.2" y="295.9" width="22.6" height="5.3" fill="#001800"/>
<rect x="478.2" y="300.7" width="22.6" height="5.3" fill="#005f00"/>
<rect x="478.2" y="305.5" width="22.6" height="5.3" fill="#000400"/>
<rect x="478.2" y="310.3" width="22.6" height="1.1" fill="#002e00"/>
<rect x="478.2" y="310.9" width="22.6" height="16.7" fill="#00ff00"/>
<rect x="478.2" y="327.3" width="22.6" height="5" fill="#808080"/>
<rect x="478.2" y="332" width="22.6" height="5.3" fill="#002800"/>
<rect x="478.2" y="336.8" width="22.6" height="1.7" fill="#002d00"/>
<rect x="478.2" y="338" width="22.6" height="2.9" fill="#640000"/>
<rect x="478.2" y="340.4" width="22.6" height="2.9" fill="#100000"/>
<rect x="478.2" y="342.8" width="22.6" height="2.7" fill="#340000"/>
<rect x="478.2" y="345" width="22.6" height="2" fill="#006000"/>
<rect x="478.2" y="346.7" width="22.6" height="78.3" fill="#00ff00"/>
<rect x="478.2" y="424.7" width="22.6" height="89.5" fill="#808080"/>
<rect x="478.2" y="513.9" width="22.6" height="4.8" fill="#00ff00"/>
<rect x="478.2" y="518.4" width="22.6" height="2.2" fill="#000000"/>
<rect x="478.2" y="520.3" width="22.6" height="3.2" fill="#006000"/>
<rect x="478.2" y="523.2" width="22.6" height="3.1" fill="#00ff00"/>
<rect x="478.2" y="526" width="22.6" height="14.4" fill="#808080"/>
<rect x="478.2" y="540.1" width="22.6" height="3.2" fill="#000000"/>
<rect x="478.2" y="543" width="22.6" height="2.6" fill="#808080"/>
<rect x="478.2" y="545.3" width="22.6" height="2.9" fill="#310000"/>
<rect x="478.2" y="547.7" width="22.6" height="2" fill="#0f0000"/>
<rect x="478.2" y="549.2" width="22.6" height="3.1" fill="#c00000"/>
<rect x="478.2" y="552" width="22.6" height="2.9" fill="#380000"/>
<rect x="478.2" y="554.4" width="22.6" height="2.9" fill="#0b0000"/>
<rect x="478.2" y="556.8" width="22.6" height="2.9" fill="#130000"/>
<rect x="478.2" y="559.2" width="22.6" height="2.9" fill="#5d0000"/>
<rect x="478.2" y="561.6" width="22.6" height="0.6" fill="#0f0000"/>
<rect x="478.2" y="561.7" width="22.6" height="19.4" fill="#808080"/>
<rect x="478.2" y="580.8" width="22.6" height="24" fill="#ff0000"/>
<rect x="500.4" y="19.3" width="22.6" height="2.2" fill="#000000"/>
<rect x="500.4" y="21.2" width="22.6" height="2.9" fill="#006300"/>
<rect x="500.4" y="23.6" width="22.6" height="2.9" fill="#002700"/>
<rect x="500.4" y="26" width="22.6" height="2.9" fill="#000500"/>
<rect x="500.4" y="28.4" width="22.6" height="2.9" fill="#005300"/>
<rect x="500.4" y="30.8" width="22.6" height="0.7" fill="#004400"/>
<rect x="500.4" y="31" width="22.6" height="2.8" fill="#20b020"/>
<rect x="500.4" y="33.5" width="22.6" height="2.9" fill="#290000"/>
<rect x="500.4" y="35.9" width="22.6" height="2.9" fill="#5c0000"/>
<rect x="500.4" y="38.3" width="22.6" height="2.9" fill="#110000"/>
<rect x="500.4" y="40.7" width="22.6" height="5.3" fill="#520000"/>
<rect x="500.4" y="45.5" width="22.6" height="2.9" fill="#520000"/>
<rect x="500.4" y="47.9" width="22.6" height="1.1" fill="#2d0000"/>
<rect x="500.4" y="48.5" width="22.6" height="2.2" fill="#ff0000"/>
<rect x="500.4" y="50.4" width="22.6" height="105.5" fill="#808080"/>
<rect x="500.4" y="155.6" width="22.6" height="7.1" fill="#ff0000"/>
<rect x="500.4" y="162.4" width="22.6" height="108.3" fill="#00ff00"/>
<rect x="500.4" y="270.4" width="22.6" height="5.3" fill="#130000"/>
<rect x="500.4" y="275.2" width="22.6" height="2.9" fill="#100000"/>
<rect x="500.4" y="277.6" width="22.6" height="0.9" fill="#120000"/>
<rect x="500.4" y="278" width="22.6" height="5.3" fill="#000000"/>
<rect x="500.4" y="282.8" width="22.6" height="5.3" fill="#000000"/>
<rect x="500.4" y="287.6" width="22.6" height="0.9" fill="#000000"/>
<rect x="500.4" y="288" width="22.6" height="2.9" fill="#5a0000"/>
<rect x="500.4" y="290.4" width="22.6" height="4.6" fill="#290000"/>
<rect x="500.4" y="294.5" width="22.6" height="2.9" fill="#002800"/>
<rect x="500.4" y="296.9" width="22.6" height="2.9" fill="#001200"/>
<rect x="500.4" y="299.3" width="22.6" height="2.2" fill="#005000"/>
<rect x="500.4" y="301" width="22.6" height="5.3" fill="#900000"/>
<rect x="500.4" y="306" width="22.6" height="5.3" fill="#000000"/>
<rect x="500.4" y="310.8" width="22.6" height="0.7" fill="#000000"/>
<rect x="500.4" y="311" width="22.6" height="2.9" fill="#130000"/>
<rect x="500.4" y="313.4" width="22.6" height="2.1" fill="#000000"/>
<rect x="500.4" y="315" width="22.6" height="2.9" fill="#003a00"/>
<rect x="500.4" y="317.4" width="22.6" height="2.9" fill="#040a00"/>
<rect x="500.4" y="319.8" width="22.6" height="2.9" fill="#080000"/>
<rect x="500.4" y="322.2" width="22.6" height="2.9" fill="#460000"/>
<rect x="500.4" y="324.6" width="22.6" height="2.9" fill="#480000"/>
<rect x="500.4" y="327" width="22.6" height="5.3" fill="#440000"/>
<rect x="500.4" y="331.8" width="22.6" height="5.3" fill="#000000"/>
<rect x="500.4" y="336.6" width="22.6" height="2.9" fill="#3c0000"/>
<rect x="500.4" y="339" width="22.6" height="2.9" fill="#010100"/>
<rect x="500.4" y="341.4" width="22.6" height="2.9" fill="#4d0000"/>
<rect x="500.4" y="343.8" width="22.6" height="2.9" fill="#060800"/>
<rect x="500.4" y="346.2" width="22.6" height="1" fill="#002900"/>
<rect x="500.4" y="346.7" width="22.6" height="60" fill="#ff0000"/>
<rect x="500.4" y="406.4" width="22.6" height="2.9" fill="#140000"/>
<rect x="500.4" y="408.8" width="22.6" height="2.9" fill="#600000"/>
<rect x="500.4" y="411.2" width="22.6" height="2.9" fill="#5a0000"/>
<rect x="500.4" y="413.6" width="22.6" height="1.1" fill="#140000"/>
<rect x="500.4" y="414.2" width="22.6" height="10.8" fill="#ff0000"/>
<rect x="500.4" y="424.7" width="22.6" height="89.5" fill="#808080"/>
<rect x="500.4" y="513.9" width="22.6" height="5" fill="#030000"/>
<rect x="500.4" y="518.4" width="22.6" height="7.9" fill="#ff0000"/>
<rect x="500.4" y="526" width="22.6" height="2.9" fill="#003a00"/>
<rect x="500.4" y="528.4" width="22.6" height="2.9" fill="#003300"/>
<rect x="500.4" y="530.8" width="22.6" height="0.6" fill="#006700"/>
<rect x="500.4" y="530.9" width="22.6" height="7" fill="#808080"/>
<rect x="500.4" y="537.6" width="22.6" height="3.7" fill="#004800"/>
<rect x="500.4" y="541" width="22.6" height="2.9" fill="#0b7d0b"/>
<rect x="500.4" y="543.4" width="22.6" height="2.9" fill="#0a760a"/>
<rect x="500.4" y="545.8" width="22.6" height="2.7" fill="#086408"/>
<rect x="500.4" y="548" width="22.6" height="2.3" fill="#004000"/>
<rect x="500.4" y="550" width="22.6" height="2.3" fill="#00ff00"/>
<rect x="500.4" y="552" width="22.6" height="3.1" fill="#808080"/>
<rect x="500.4" y="554.8" width="22.6" height="4.4" fill="#000000"/>
<rect x="500.4" y="558.7" width="22.6" height="46.1" fill="#00ff00"/>
<rect x="522.6" y="19.3" width="22.6" height="2.2" fill="#000000"/>
<rect x="522.6" y="21.2" width="22.6" height="2.9" fill="#002c00"/>
<rect x="522.6" y="23.6" width="22.6" height="2.9" fill="#001900"/>
<rect x="522.6" y="26" width="22.6" height="1.5" fill="#001700"/>
<rect x="522.6" y="27" width="22.6" height="2.9" fill="#004900"/>
<rect x="522.6" y="29.4" width="22.6" height="5.1" fill="#002900"/>
<rect x="522.6" y="34" width="22.6" height="2.9" fill="#050500"/>
<rect x="522.6" y="36.4" width="22.6" height="2.9" fill="#030300"/>
<rect x="522.6" y="38.8" width="22.6" height="2.9" fill="#040400"/>
<rect x="522.6" y="41.2" width="22.6" height="2.9" fill="#040400"/>
<rect x="522.6" y="43.6" width="22.6" height="1.9" fill="#060600"/>
<rect x="522.6" y="45" width="22.6" height="3.8" fill="#003000"/>
<rect x="522.6" y="48.5" width="22.6" height="2.2" fill="#700000"/>
<rect x="522.6" y="50.4" width="22.6" height="45.6" fill="#808080"/>
<rect x="522.6" y="95.7" width="22.6" height="2.2" fill="#600000"/>
<rect x="522.6" y="97.6" width="22.6" height="34.6" fill="#808080"/>
<rect x="522.6" y="131.9" width="22.6" height="30.8" fill="#ff0000"/>
<rect x="522.6" y="162.4" width="22.6" height="84.3" fill="#00ff00"/>
<rect x="522.6" y="246.4" width="22.6" height="5.3" fill="#006100"/>
<rect x="522.6" y="251.2" width="22.6" height="5.3" fill="#004a00"/>
<rect x="522.6" y="256" width="22.6" height="5.3" fill="#005800"/>
<rect x="522.6" y="260.8" width="22.6" height="9.9" fill="#00ff00"/>
<rect x="522.6" y="270.4" width="22.6" height="2.9" fill="#070900"/>
<rect x="522.6" y="272.8" width="22.6" height="2.9" fill="#003700"/>
<rect x="522.6" y="275.2" width="22.6" height="2.9" fill="#2d0000"/>
<rect x="522.6" y="277.6" width="22.6" height="2.9" fill="#030100"/>
<rect x="522.6" y="280" width="22.6" height="2.9" fill="#040000"/>
<rect x="522.6" y="282.4" width="22.6" height="2.9" fill="#160a00"/>
<rect x="522.6" y="284.8" width="22.6" height="2.9" fill="#004d00"/>
<rect x="522.6" y="287.2" width="22.6" height="1.1" fill="#120500"/>
<rect x="522.6" y="287.8" width="22.6" height="8.9" fill="#10a010"/>
<rect x="522.6" y="296.4" width="22.6" height="4.9" fill="#00ff00"/>
<rect x="522.6" y="301" width="22.6" height="14" fill="#108010"/>
<rect x="522.6" y="314.7" width="22.6" height="32.1" fill="#00ff00"/>
<rect x="522.6" y="346.5" width="22.6" height="78.5" fill="#808080"/>
<rect x="522.6" y="424.7" width="22.6" height="89.5" fill="#ff0000"/>
<rect x="522.6" y="513.9" width="22.6" height="2.8" fill="#000000"/>
<rect x="522.6" y="516.4" width="22.6" height="7.1" fill="#808080"/>
<rect x="522.6" y="523.2" width="22.6" height="3.1" fill="#ff0000"/>
<rect x="522.6" y="526" width="22.6" height="2.9" fill="#670000"/>
<rect x="522.6" y="528.4" width="22.6" height="2.9" fill="#540000"/>
<rect x="522.6" y="530.8" width="22.6" height="2.9" fill="#060000"/>
<rect x="522.6" y="533.2" width="22.6" height="2.9" fill="#190000"/>
<rect x="522.6" y="535.6" width="22.6" height="2.9" fill="#470000"/>
<rect x="522.6" y="538" width="22.6" height="1.1" fill="#030000"/>
<rect x="522.6" y="538.6" width="22.6" height="2.9" fill="#000a00"/>
<rect x="522.6" y="541" width="22.6" height="5.3" fill="#000b00"/>
<rect x="522.6" y="545.8" width="22.6" height="2.9" fill="#002900"/>
<rect x="522.6" y="548.2" width="22.6" height="2.3" fill="#006300"/>
<rect x="522.6" y="550" width="22.6" height="5.3" fill="#260000"/>
<rect x="522.6" y="554.8" width="22.6" height="5.3" fill="#100000"/>
<rect x="522.6" y="559.6" width="22.6" height="2.9" fill="#160000"/>
<rect x="522.6" y="562" width="22.6" height="2.9" fill="#3e0000"/>
<rect x="522.6" y="564.4" width="22.6" height="2.9" fill="#470000"/>
<rect x="522.6" y="566.8" width="22.6" height="2.9" fill="#660000"/>
<rect x="522.6" y="569.2" width="22.6" height="2.9" fill="#180000"/>
<rect x="522.6" y="571.6" width="22.6" height="1.9" fill="#0f0000"/>
<rect x="522.6" y="573" width="22.6" height="2.9" fill="#003a00"/>
<rect x="522.6" y="575.4" width="22.6" height="5.3" fill="#006400"/>
<rect x="522.6" y="580.2" width="22.6" height="2.9" fill="#003700"/>
<rect x="522.6" y="582.6" width="22.6" height="2.9" fill="#004000"/>
<rect x="522.6" y="585" width="22.6" height="5.3" fill="#001400"/>
<rect x="522.6" y="589.8" width="22.6" height="2.9" fill="#003000"/>
<rect x="522.6" y="592.2" width="22.6" height="2.3" fill="#005600"/>
<rect x="522.6" y="594" width="22.6" height="5.3" fill="#2e0000"/>
<rect x="522.6" y="598.8" width="22.6" height="1.7" fill="#260000"/>
<rect x="522.6" y="600" width="22.6" height="2.9" fill="#000000"/>
<rect x="522.6" y="602.4" width="22.6" height="2.6" fill="#000000"/>
<rect x="544.8" y="19.3" width="22.2" height="2.2" fill="#000000"/>
<rect x="544.8" y="21.2" width="22.2" height="3.5" fill="#808080"/>
<rect x="544.8" y="24.4" width="22.2" height="2.9" fill="#400000"/>
<rect x="544.8" y="26.8" width="22.2" height="5.3" fill="#130000"/>
<rect x="544.8" y="31.6" width="22.2" height="2.9" fill="#0a0000"/>
<rect x="544.8" y="34" width="22.2" height="2.9" fill="#5c0000"/>
<rect x="544.8" y="36.4" width="22.2" height="2.9" fill="#0e0000"/>
<rect x="544.8" y="38.8" width="22.2" height="2.9" fill="#330000"/>
<rect x="544.8" y="41.2" width="22.2" height="2.9" fill="#410000"/>
<rect x="544.8" y="43.6" width="22.2" height="2.9" fill="#180000"/>
<rect x="544.8" y="46" width="22.2" height="2.9" fill="#420000"/>
<rect x="544.8" y="48.4" width="22.2" height="0.6" fill="#4f0000"/>
<rect x="544.8" y="48.5" width="22.2" height="33.1" fill="#ff0000"/>
<rect x="544.8" y="81.3" width="22.2" height="2.9" fill="#060000"/>
<rect x="544.8" y="83.7" width="22.2" height="2.9" fill="#300000"/>
<rect x="544.8" y="86.1" width="22.2" height="2.9" fill="#300000"/>
<rect x="544.8" y="88.5" width="22.2" height="2.9" fill="#350000"/>
<rect x="544.8" y="90.9" width="22.2" height="2.9" fill="#5a0000"/>
<rect x="544.8" y="93.3" width="22.2" height="2.9" fill="#140000"/>
<rect x="544.8" y="95.7" width="22.2" height="2.4" fill="#0c0000"/>
<rect x="544.8" y="97.6" width="22.2" height="34.6" fill="#ff0000"/>
<rect x="544.8" y="131.9" width="22.2" height="5.3" fill="#0c0000"/>
<rect x="544.8" y="136.7" width="22.2" height="3.1" fill="#630000"/>
<rect x="544.8" y="139.3" width="22.2" height="4.2" fill="#000000"/>
<rect x="544.8" y="143" width="22.2" height="2.9" fill="#001300"/>
<rect x="544.8" y="145.4" width="22.2" height="5.3" fill="#000700"/>
<rect x="544.8" y="150.2" width="22.2" height="5.3" fill="#005800"/>
<rect x="544.8" y="155" width="22.2" height="2.9" fill="#004000"/>
<rect x="544.8" y="157.4" width="22.2" height="0.6" fill="#005d00"/>
<rect x="544.8" y="157.5" width="22.2" height="5.3" fill="#140000"/>
<rect x="544.8" y="162.3" width="22.2" height="0.6" fill="#420000"/>
<rect x="544.8" y="162.4" width="22.2" height="100.6" fill="#808080"/>
<rect x="544.8" y="262.7" width="22.2" height="8" fill="#ff0000"/>
<rect x="544.8" y="270.4" width="22.2" height="5.3" fill="#003700"/>
<rect x="544.8" y="275.2" width="22.2" height="2.9" fill="#006000"/>
<rect x="544.8" y="277.6" width="22.2" height="5.3" fill="#000d00"/>
<rect x="544.8" y="282.4" width="22.2" height="2.9" fill="#004c00"/>
<rect x="544.8" y="284.8" width="22.2" height="2.9" fill="#006100"/>
<rect x="544.8" y="287.2" width="22.2" height="2" fill="#001100"/>
<rect x="544.8" y="288.7" width="22.2" height="3.2" fill="#808080"/>
<rect x="544.8" y="291.6" width="22.2" height="2.9" fill="#000000"/>
<rect x="544.8" y="294" width="22.2" height="2.9" fill="#000000"/>
<rect x="544.8" y="296.4" width="22.2" height="2.9" fill="#000000"/>
<rect x="544.8" y="298.8" width="22.2" height="2.9" fill="#000000"/>
<rect x="544.8" y="301.2" width="22.2" height="0.6" fill="#000000"/>
<rect x="544.8" y="301.3" width="22.2" height="11.8" fill="#900000"/>
<rect x="544.8" y="312.8" width="22.2" height="24.4" fill="#808080"/>
<rect x="544.8" y="336.9" width="22.2" height="9.9" fill="#ff0000"/>
<rect x="544.8" y="346.5" width="22.2" height="78.5" fill="#808080"/>
<rect x="544.8" y="424.7" width="22.2" height="94" fill="#00ff00"/>
<rect x="544.8" y="518.4" width="22.2" height="5.1" fill="#808080"/>
<rect x="544.8" y="523.2" width="22.2" height="14.7" fill="#00ff00"/>
<rect x="544.8" y="537.6" width="22.2" height="2.9" fill="#005400"/>
<rect x="544.8" y="540" width="22.2" height="2" fill="#004d00"/>
<rect x="544.8" y="541.5" width="22.2" height="4.1" fill="#808080"/>
<rect x="544.8" y="545.3" width="22.2" height="5.3" fill="#005d00"/>
<rect x="544.8" y="550.1" width="22.2" height="2.9" fill="#003a00"/>
<rect x="544.8" y="552.5" width="22.2" height="5.3" fill="#003200"/>
<rect x="544.8" y="557.3" width="22.2" height="1.1" fill="#004300"/>
<rect x="544.8" y="557.9" width="22.2" height="23.2" fill="#00ff00"/>
<rect x="544.8" y="580.8" width="22.2" height="2.9" fill="#2a0000"/>
<rect x="544.8" y="583.2" width="22.2" height="2.9" fill="#0d0000"/>
<rect x="544.8" y="585.6" width="22.2" height="2.9" fill="#300000"/>
<rect x="544.8" y="588" width="22.2" height="2.9" fill="#0c0000"/>
<rect x="544.8" y="590.4" width="22.2" height="2.9" fill="#550000"/>
<rect x="544.8" y="592.8" width="22.2" height="2.7" fill="#040000"/>
<rect x="544.8" y="595" width="22.2" height="6.3" fill="#20a020"/>
<rect x="544.8" y="601" width="22.2" height="3.8" fill="#000000"/>
<g transform="rotate(0.01) scale(1 0.75)" text-rendering="geometricPrecision" font-family="Liberation Sans, sans-serif" font-size="2.55" font-weight="bold" fill="#5c5c5c"><text x="569.2" y="28.4">novel mir 36</text><text x="569.2" y="31.59">novel mir 99</text><text x="569.2" y="34.77">novel mir 241</text><text x="569.2" y="37.96">novel mir 116</text><text x="569.2" y="41.15">novel mir 75</text><text x="569.2" y="44.33">novel mir 181</text><text x="569.2" y="47.52">novel mir 212</text><text x="569.2" y="50.71">novel mir 240</text><text x="569.2" y="53.89">novel mir 151</text><text x="569.2" y="57.08">novel mir 65</text><text x="569.2" y="60.27">novel mir 241</text><text x="569.2" y="63.45">novel mir 182</text><text x="569.2" y="66.64">novel mir 118</text><text x="569.2" y="69.83">novel mir 137</text><text x="569.2" y="73.01">novel mir 193</text><text x="569.2" y="76.2">novel mir 130</text><text x="569.2" y="79.39">novel mir 219</text><text x="569.2" y="82.57">novel mir 96</text><text x="569.2" y="85.76">novel mir 247</text><text x="569.2" y="88.95">novel mir 2</text><text x="569.2" y="92.13">novel mir 144</text><text x="569.2" y="95.32">novel mir 184</text><text x="569.2" y="98.51">novel mir 126</text><text x="569.2" y="101.69">novel mir 155</text><text x="569.2" y="104.88">novel mir 165</text><text x="569.2" y="108.07">novel mir 246</text><text x="569.2" y="111.25">novel mir 249</text><text x="569.2" y="114.44">novel mir 220</text><text x="569.2" y="117.63">novel mir 44</text><text x="569.2" y="120.81">novel mir 186</text><text x="569.2" y="124">novel mir 79</text><text x="569.2" y="127.19">novel mir 156</text><text x="569.2" y="130.37">novel mir 198</text><text x="569.2" y="133.56">novel mir 30</text><text x="569.2" y="136.75">novel mir 44</text><text x="569.2" y="139.93">novel mir 167</text><text x="569.2" y="143.12">novel mir 72</text><text x="569.2" y="146.31">novel mir 177</text><text x="569.2" y="149.49">novel mir 8</text><text x="569.2" y="152.68">novel mir 6</text><text x="569.2" y="155.87">novel mir 108</text><text x="569.2" y="159.05">novel mir 37</text><text x="569.2" y="162.24">novel mir 151</text><text x="569.2" y="165.43">novel mir 129</text><text x="569.2" y="168.61">novel mir 52</text><text x="569.2" y="171.8">novel mir 74</text><text x="569.2" y="174.99">novel mir 120</text><text x="569.2" y="178.17">novel mir 96</text><text x="569.2" y="181.36">novel mir 232</text><text x="569.2" y="184.55">novel mir 178</text><text x="569.2" y="187.73">novel mir 79</text><text x="569.2" y="190.92">novel mir 107</text><text x="569.2" y="194.11">novel mir 207</text><text x="569.2" y="197.29">novel mir 86</text><text x="569.2" y="200.48">novel mir 47</text><text x="569.2" y="203.67">novel mir 153</text><text x="569.2" y="206.85">novel mir 102</text><text x="569.2" y="210.04">novel mir 254</text><text x="569.2" y="213.23">novel mir 110</text><text x="569.2" y="216.41">novel mir 41</text><text x="569.2" y="219.6">novel mir 225</text><text x="569.2" y="222.79">novel mir 60</text><text x="569.2" y="225.97">novel mir 61</text><text x="569.2" y="229.16">novel mir 136</text><text x="569.2" y="232.35">novel mir 215</text><text x="569.2" y="235.53">novel mir 120</text><text x="569.2" y="238.72">novel mir 72</text><text x="569.2" y="241.91">novel mir 243</text><text x="569.2" y="245.09">novel mir 253</text><text x="569.2" y="248.28">novel mir 30</text><text x="569.2" y="251.47">novel mir 248</text><text x="569.2" y="254.65">novel mir 240</text><text x="569.2" y="257.84">novel mir 74</text><text x="569.2" y="261.03">novel mir 252</text><text x="569.2" y="264.21">novel mir 127</text><text x="569.2" y="267.4">novel mir 256</text><text x="569.2" y="270.59">novel mir 85</text><text x="569.2" y="273.77">novel mir 4</text><text x="569.2" y="276.96">novel mir 83</text><text x="569.2" y="280.15">novel mir 165</text><text x="569.2" y="283.33">novel mir 240</text><text x="569.2" y="286.52">novel mir 255</text><text x="569.2" y="289.71">novel mir 152</text><text x="569.2" y="292.89">novel mir 239</text><text x="569.2" y="296.08">novel mir 192</text><text x="569.2" y="299.27">novel mir 219</text><text x="569.2" y="302.45">novel mir 215</text><text x="569.2" y="305.64">novel mir 39</text><text x="569.2" y="308.83">novel mir 93</text><text x="569.2" y="312.01">novel mir 185</text><text x="569.2" y="315.2">novel mir 15</text><text x="569.2" y="318.39">novel mir 11</text><text x="569.2" y="321.57">novel mir 24</text><text x="569.2" y="324.76">novel mir 170</text><text x="569.2" y="327.95">novel mir 49</text><text x="569.2" y="331.13">novel mir 248</text><text x="569.2" y="334.32">novel mir 249</text><text x="569.2" y="337.51">novel mir 74</text><text x="569.2" y="340.69">novel mir 18</text><text x="569.2" y="343.88">novel mir 110</text><text x="569.2" y="347.07">novel mir 213</text><text x="569.2" y="350.25">novel mir 65</text><text x="569.2" y="353.44">novel mir 174</text><text x="569.2" y="356.63">novel mir 49</text><text x="569.2" y="359.81">novel mir 188</text><text x="569.2" y="363">novel mir 175</text><text x="569.2" y="366.19">novel mir 243</text><text x="569.2" y="369.37">novel mir 108</text><text x="569.2" y="372.56">novel mir 146</text><text x="569.2" y="375.75">novel mir 223</text><text x="569.2" y="378.93">novel mir 176</text><text x="569.2" y="382.12">novel mir 217</text><text x="569.2" y="385.31">novel mir 129</text><text x="569.2" y="388.49">novel mir 27</text><text x="569.2" y="391.68">novel mir 149</text><text x="569.2" y="394.87">novel mir 150</text><text x="569.2" y="398.05">novel mir 182</text><text x="569.2" y="401.24">novel mir 253</text><text x="569.2" y="404.43">novel mir 207</text><text x="569.2" y="407.61">novel mir 171</text><text x="569.2" y="410.8">novel mir 258</text><text x="569.2" y="413.99">novel mir 140</text><text x="569.2" y="417.17">novel mir 260</text><text x="569.2" y="420.36">novel mir 177</text><text x="569.2" y="423.55">novel mir 105</text><text x="569.2" y="426.73">novel mir 253</text><text x="569.2" y="429.92">novel mir 61</text><text x="569.2" y="433.11">novel mir 170</text><text x="569.2" y="436.29">novel mir 99</text><text x="569.2" y="439.48">novel mir 163</text><text x="569.2" y="442.67">novel mir 154</text><text x="569.2" y="445.85">novel mir 66</text><text x="569.2" y="449.04">novel mir 45</text><text x="569.2" y="452.23">novel mir 21</text><text x="569.2" y="455.41">novel mir 205</text><text x="569.2" y="458.6">novel mir 208</text><text x="569.2" y="461.79">novel mir 26</text><text x="569.2" y="464.97">novel mir 205</text><text x="569.2" y="468.16">novel mir 154</text><text x="569.2" y="471.35">novel mir 56</text><text x="569.2" y="474.53">novel mir 4</text><text x="569.2" y="477.72">novel mir 24</text><text x="569.2" y="480.91">novel mir 98</text><text x="569.2" y="484.09">novel mir 244</text><text x="569.2" y="487.28">novel mir 31</text><text x="569.2" y="490.47">novel mir 257</text><text x="569.2" y="493.65">novel mir 193</text><text x="569.2" y="496.84">novel mir 76</text><text x="569.2" y="500.03">novel mir 43</text><text x="569.2" y="503.21">novel mir 109</text><text x="569.2" y="506.4">novel mir 21</text><text x="569.2" y="509.59">novel mir 235</text><text x="569.2" y="512.77">novel mir 90</text><text x="569.2" y="515.96">novel mir 52</text><text x="569.2" y="519.15">novel mir 93</text><text x="569.2" y="522.33">novel mir 19</text><text x="569.2" y="525.52">novel mir 216</text><text x="569.2" y="528.71">novel mir 52</text><text x="569.2" y="531.89">novel mir 7</text><text x="569.2" y="535.08">novel mir 189</text><text x="569.2" y="538.27">novel mir 72</text><text x="569.2" y="541.45">novel mir 159</text><text x="569.2" y="544.64">novel mir 133</text><text x="569.2" y="547.83">novel mir 155</text><text x="569.2" y="551.01">novel mir 95</text><text x="569.2" y="554.2">novel mir 216</text><text x="569.2" y="557.39">novel mir 18</text><text x="569.2" y="560.57">novel mir 164</text><text x="569.2" y="563.76">novel mir 11</text><text x="569.2" y="566.95">novel mir 221</text><text x="569.2" y="570.13">novel mir 28</text><text x="569.2" y="573.32">novel mir 255</text><text x="569.2" y="576.51">novel mir 21</text><text x="569.2" y="579.69">novel mir 61</text><text x="569.2" y="582.88">novel mir 216</text><text x="569.2" y="586.07">novel mir 208</text><text x="569.2" y="589.25">novel mir 229</text><text x="569.2" y="592.44">novel mir 35</text><text x="569.2" y="595.63">novel mir 8</text><text x="569.2" y="598.81">novel mir 199</text><text x="569.2" y="602">novel mir 80</text><text x="569.2" y="605.19">novel mir 244</text><text x="569.2" y="608.37">novel mir 212</text><text x="569.2" y="611.56">novel mir 53</text><text x="569.2" y="614.75">novel mir 43</text><text x="569.2" y="617.93">novel mir 242</text><text x="569.2" y="621.12">novel mir 109</text><text x="569.2" y="624.31">novel mir 78</text><text x="569.2" y="627.49">novel mir 8</text><text x="569.2" y="630.68">novel mir 219</text><text x="569.2" y="633.87">novel mir 3</text><text x="569.2" y="637.05">novel mir 5</text><text x="569.2" y="640.24">novel mir 63</text><text x="569.2" y="643.43">novel mir 46</text><text x="569.2" y="646.61">novel mir 112</text><text x="569.2" y="649.8">novel mir 63</text><text x="569.2" y="652.99">novel mir 67</text><text x="569.2" y="656.17">novel mir 242</text><text x="569.2" y="659.36">novel mir 10</text><text x="569.2" y="662.55">novel mir 142</text><text x="569.2" y="665.73">novel mir 125</text><text x="569.2" y="668.92">novel mir 231</text><text x="569.2" y="672.11">novel mir 96</text><text x="569.2" y="675.29">novel mir 26</text><text x="569.2" y="678.48">novel mir 188</text><text x="569.2" y="681.67">novel mir 75</text><text x="569.2" y="684.85">novel mir 44</text><text x="569.2" y="688.04">novel mir 151</text><text x="569.2" y="691.23">novel mir 256</text><text x="569.2" y="694.41">novel mir 236</text><text x="569.2" y="697.6">novel mir 131</text><text x="569.2" y="700.79">novel mir 27</text><text x="569.2" y="703.97">novel mir 17</text><text x="569.2" y="707.16">novel mir 6</text><text x="569.2" y="710.35">novel mir 32</text><text x="569.2" y="713.53">novel mir 8</text><text x="569.2" y="716.72">novel mir 41</text><text x="569.2" y="719.91">novel mir 200</text><text x="569.2" y="723.09">novel mir 160</text><text x="569.2" y="726.28">novel mir 160</text><text x="569.2" y="729.47">novel mir 85</text><text x="569.2" y="732.65">novel mir 250</text><text x="569.2" y="735.84">novel mir 31</text><text x="569.2" y="739.03">novel mir 162</text><text x="569.2" y="742.21">novel mir 189</text><text x="569.2" y="745.4">novel mir 225</text><text x="569.2" y="748.59">novel mir 241</text><text x="569.2" y="751.77">novel mir 86</text><text x="569.2" y="754.96">novel mir 75</text><text x="569.2" y="758.15">novel mir 60</text><text x="569.2" y="761.33">novel mir 186</text><text x="569.2" y="764.52">novel mir 84</text><text x="569.2" y="767.71">novel mir 214</text><text x="569.2" y="770.89">novel mir 245</text><text x="569.2" y="774.08">novel mir 198</text><text x="569.2" y="777.27">novel mir 232</text><text x="569.2" y="780.45">novel mir 140</text><text x="569.2" y="783.64">novel mir 171</text><text x="569.2" y="786.83">novel mir 150</text><text x="569.2" y="790.01">novel mir 144</text><text x="569.2" y="793.2">novel mir 32</text><text x="569.2" y="796.39">novel mir 171</text><text x="569.2" y="799.57">novel mir 8</text><text x="569.2" y="802.76">novel mir 78</text><text x="569.2" y="805.95">novel mir 159</text></g>
<defs><linearGradient id="ga" x1="0" x2="1" y1="0" y2="0"><stop offset="0" stop-color="#00ff00"/><stop offset="0.5" stop-color="#000"/><stop offset="1" stop-color="#ff0000"/></linearGradient></defs>
<text transform="translate(258.1 12.61) scale(1 0.57)" font-family="Liberation Sans, sans-serif" font-size="6.4" fill="#1a1a1a" stroke="#1a1a1a" stroke-width="0.32" textLength="68.5" lengthAdjust="spacingAndGlyphs">log2(Treatment/control) :</text>
<rect x="256.2" y="15" width="66.8" height="6.5" fill="url(#ga)"/>
<text transform="translate(255.9 24.8) scale(1 0.57)" font-family="Liberation Sans, sans-serif" font-size="5.4" fill="#30c030" stroke="#30c030" stroke-width="0.32">-4</text>
<text transform="translate(288.1 24.8) scale(1 0.57)" font-family="Liberation Sans, sans-serif" font-size="5.4" fill="#1a1a1a" stroke="#1a1a1a" stroke-width="0.32">0</text>
<text transform="translate(319.6 24.8) scale(1 0.57)" font-family="Liberation Sans, sans-serif" font-size="5.4" fill="#e03030" stroke="#e03030" stroke-width="0.32">4</text>
<text transform="translate(258.1 33.7) scale(1 0.57)" font-family="Liberation Sans, sans-serif" font-size="6.4" fill="#1a1a1a" stroke="#1a1a1a" stroke-width="0.32" textLength="77.5" lengthAdjust="spacingAndGlyphs">Gray indicates missing data :</text>
<rect x="256.2" y="36.72" width="21.9" height="6.5" fill="#808080"/>
<defs><linearGradient id="gb" x1="0" x2="1" y1="0" y2="0"><stop offset="0" stop-color="#00ff00"/><stop offset="0.5" stop-color="#000"/><stop offset="1" stop-color="#ff0000"/></linearGradient></defs>
<text transform="translate(596.1 24.8) scale(1 1.0)" font-family="Liberation Sans, sans-serif" font-size="6.4" fill="#1a1a1a" stroke="#1a1a1a" stroke-width="0.18" textLength="68.5" lengthAdjust="spacingAndGlyphs">log2(Treatment/control) :</text>
<rect x="594.2" y="29" width="66.8" height="11.4" fill="url(#gb)"/>
<text transform="translate(593.9 46.2) scale(1 1.0)" font-family="Liberation Sans, sans-serif" font-size="5.4" fill="#30c030" stroke="#30c030" stroke-width="0.18">-4</text>
<text transform="translate(626.1 46.2) scale(1 1.0)" font-family="Liberation Sans, sans-serif" font-size="5.4" fill="#1a1a1a" stroke="#1a1a1a" stroke-width="0.18">0</text>
<text transform="translate(657.6 46.2) scale(1 1.0)" font-family="Liberation Sans, sans-serif" font-size="5.4" fill="#e03030" stroke="#e03030" stroke-width="0.18">4</text>
<text transform="translate(596.1 61.8) scale(1 1.0)" font-family="Liberation Sans, sans-serif" font-size="6.4" fill="#1a1a1a" stroke="#1a1a1a" stroke-width="0.18" textLength="77.5" lengthAdjust="spacingAndGlyphs">Gray indicates missing data :</text>
<rect x="594.2" y="67.1" width="21.9" height="11.4" fill="#808080"/>
<text transform="translate(148 622) scale(1 0.6) rotate(61)" font-family="Liberation Sans, sans-serif" font-size="9.7" fill="#111" stroke="#111" stroke-width="0.3">B2−0.4vsB4−0.4</text>
<text transform="translate(170 622) scale(1 0.6) rotate(61)" font-family="Liberation Sans, sans-serif" font-size="9.7" fill="#111" stroke="#111" stroke-width="0.3">B2vsB2−0.4</text>
<text transform="translate(192 622) scale(1 0.6) rotate(61)" font-family="Liberation Sans, sans-serif" font-size="9.7" fill="#111" stroke="#111" stroke-width="0.3">B2vsB4</text>
<text transform="translate(214 622) scale(1 0.6) rotate(61)" font-family="Liberation Sans, sans-serif" font-size="9.7" fill="#111" stroke="#111" stroke-width="0.3">B4vsB4−0.4</text>
<text transform="translate(484.7 609.6) rotate(62)" font-family="Liberation Sans, sans-serif" font-size="9.6" fill="#111" stroke="#111" stroke-width="0.15">B2−0.4vsB4−0.4</text>
<text transform="translate(506.9 609.6) rotate(62)" font-family="Liberation Sans, sans-serif" font-size="9.6" fill="#111" stroke="#111" stroke-width="0.15">B2vsB2−0.4</text>
<text transform="translate(529.1 609.6) rotate(62)" font-family="Liberation Sans, sans-serif" font-size="9.6" fill="#111" stroke="#111" stroke-width="0.15">B2vsB4</text>
<text transform="translate(551.3 609.6) rotate(62)" font-family="Liberation Sans, sans-serif" font-size="9.6" fill="#111" stroke="#111" stroke-width="0.15">B4vsB4−0.4</text>
<text x="103.5" y="646.5" font-family="Liberation Serif, serif" font-size="19" fill="#111">a</text>
<text x="462.5" y="638.5" font-family="Liberation Serif, serif" font-size="18" fill="#111">b</text>
</g>
</svg>
</body></html>
